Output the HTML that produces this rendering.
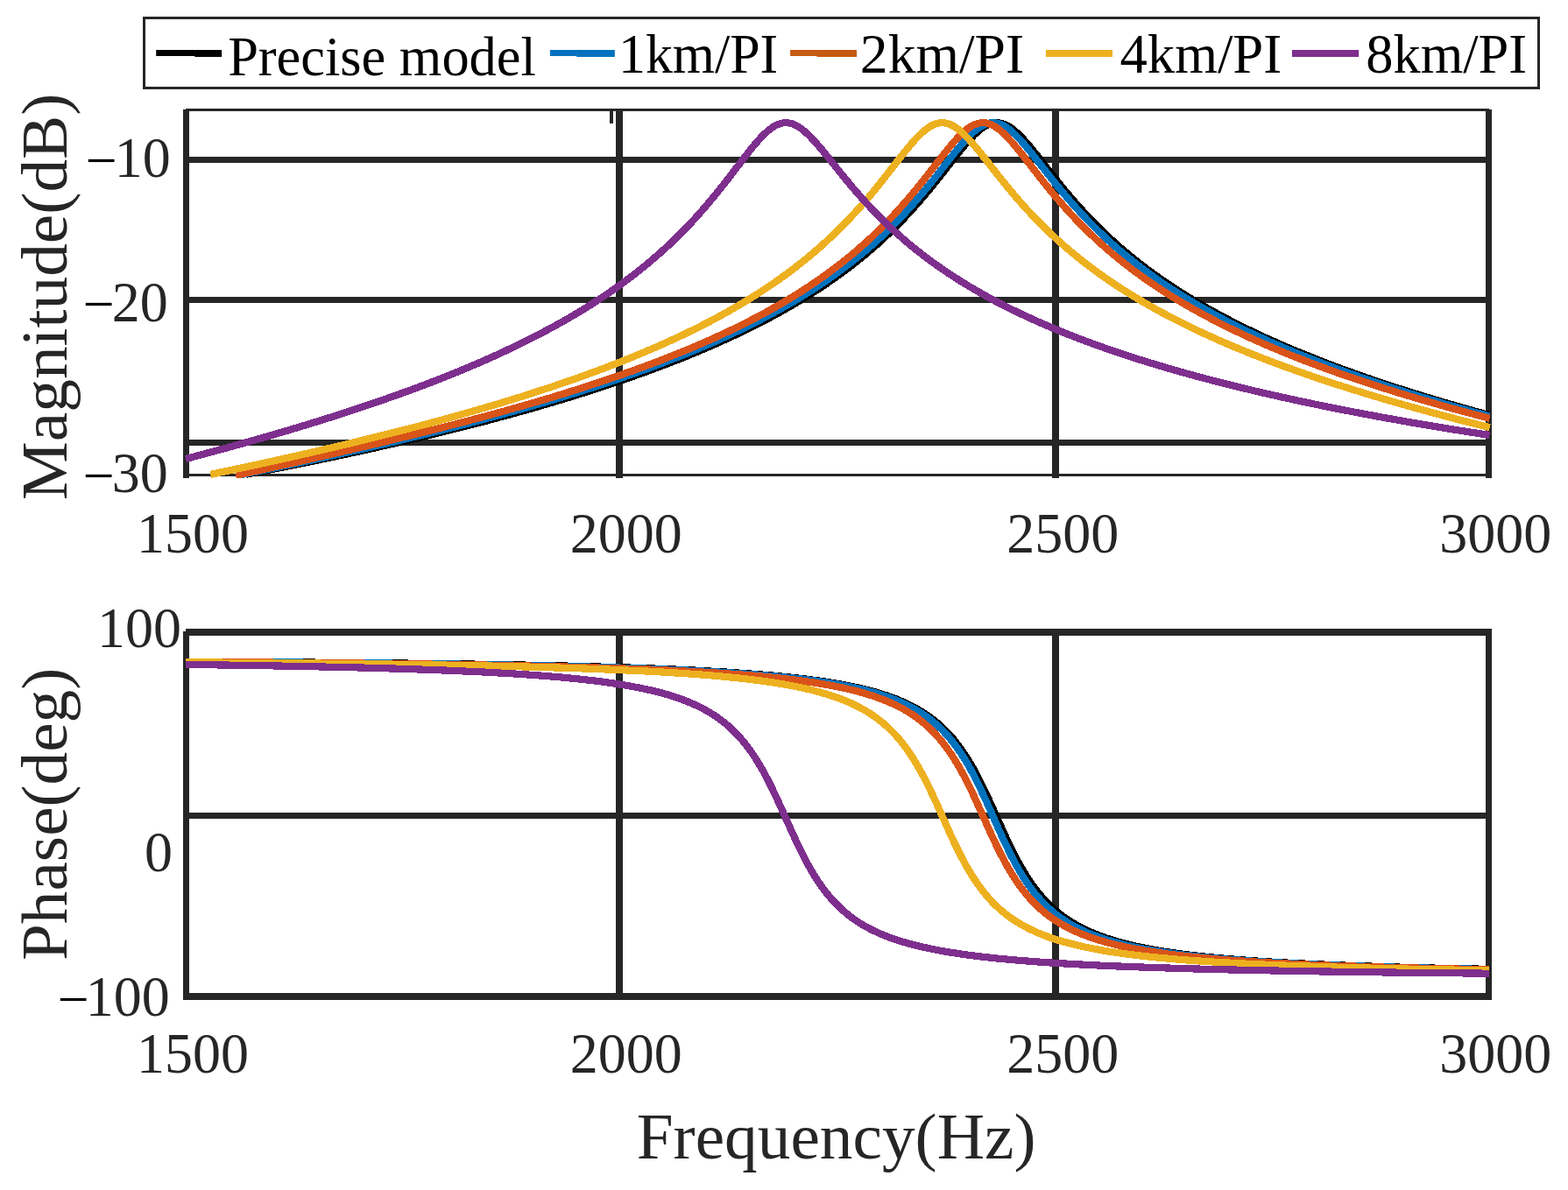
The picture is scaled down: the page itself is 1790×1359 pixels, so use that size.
<!DOCTYPE html>
<html lang="en"><head><meta charset="utf-8"><title>Frequency response</title>
<style>html,body{margin:0;padding:0;background:#fff;}body{width:1790px;height:1359px;overflow:hidden;}svg{display:block;}text{font-family:"Liberation Serif","DejaVu Serif",serif;}</style></head><body>
<svg width="1790" height="1359" viewBox="0 0 1790 1359">
<rect x="0" y="0" width="1790" height="1359" fill="#ffffff"/>
<defs><clipPath id="c1"><rect x="205" y="124" width="1499" height="422"/></clipPath><clipPath id="c2"><rect x="205" y="718" width="1499" height="424"/></clipPath></defs>
<g id="legend">
<rect x="164.5" y="20.5" width="1592" height="80" fill="#fff" stroke="#262626" stroke-width="3"/>
<rect x="178.2" y="57" width="44.7" height="7" fill="#000000"/>
<rect x="222.4" y="57" width="30.7" height="8" fill="#000000"/>
<text transform="matrix(0.6240 0 0 0.6440 260.13 86.26)" font-size="100" fill="#000">Precise model</text>
<rect x="627.9" y="57" width="30.8" height="7" fill="#0072BD"/>
<rect x="658.2" y="57" width="43.6" height="8" fill="#0072BD"/>
<text transform="matrix(0.6191 0 0 0.6340 705.93 82.87)" font-size="100" fill="#000">1km/PI</text>
<rect x="902.1" y="57" width="30.9" height="7" fill="#C55A11"/>
<rect x="932.5" y="57" width="45.5" height="8" fill="#C55A11"/>
<text transform="matrix(0.6360 0 0 0.6340 981.84 82.87)" font-size="100" fill="#000">2km/PI</text>
<rect x="1193.9" y="57" width="76.1" height="8" fill="#EDB120"/>
<text transform="matrix(0.6273 0 0 0.6340 1278.45 82.87)" font-size="100" fill="#000">4km/PI</text>
<rect x="1475.0" y="57" width="76.2" height="8" fill="#7E2F8E"/>
<text transform="matrix(0.6247 0 0 0.6340 1559.20 82.87)" font-size="100" fill="#000">8km/PI</text>
</g>
<g id="ax1" fill="#262626">
<rect x="212" y="124" width="1488" height="3"/>
<rect x="209" y="541" width="1494" height="3"/>
<rect x="212" y="179" width="1488" height="7"/>
<rect x="212" y="339" width="1488" height="7"/>
<rect x="212" y="502" width="1488" height="7"/>
<rect x="703" y="124" width="8" height="422"/>
<rect x="1201" y="124" width="8" height="422"/>
<rect x="209" y="125" width="7" height="421"/>
<rect x="1696" y="125" width="7" height="421"/>
<rect x="696" y="127" width="4" height="14"/>
</g>
<g id="curves1" clip-path="url(#c1)" fill="none" stroke-width="8.2" stroke-linejoin="round" shape-rendering="crispEdges">
<path d="M281.0 541.8 L283.0 541.4 L285.0 541.0 L287.0 540.6 L289.0 540.2 L291.0 539.9 L293.0 539.5 L295.0 539.1 L297.0 538.7 L299.0 538.3 L301.0 537.9 L303.0 537.5 L305.0 537.1 L307.0 536.8 L309.0 536.4 L311.0 536.0 L313.0 535.6 L315.0 535.2 L317.0 534.8 L319.0 534.4 L321.0 534.0 L323.0 533.6 L325.0 533.2 L327.0 532.8 L329.0 532.4 L331.0 532.0 L333.0 531.6 L335.0 531.2 L337.0 530.8 L339.0 530.4 L341.0 530.0 L343.0 529.6 L345.0 529.2 L347.0 528.8 L349.0 528.4 L351.0 528.0 L353.0 527.5 L355.0 527.1 L357.0 526.7 L359.0 526.3 L361.0 525.9 L363.0 525.5 L365.0 525.1 L367.0 524.6 L369.0 524.2 L371.0 523.8 L373.0 523.4 L375.0 523.0 L377.0 522.5 L379.0 522.1 L381.0 521.7 L383.0 521.3 L385.0 520.9 L387.0 520.4 L389.0 520.0 L391.0 519.6 L393.0 519.1 L395.0 518.7 L397.0 518.3 L399.0 517.8 L401.0 517.4 L403.0 517.0 L405.0 516.5 L407.0 516.1 L409.0 515.7 L411.0 515.2 L413.0 514.8 L415.0 514.4 L417.0 513.9 L419.0 513.5 L421.0 513.0 L423.0 512.6 L425.0 512.1 L427.0 511.7 L429.0 511.2 L431.0 510.8 L433.0 510.4 L435.0 509.9 L437.0 509.4 L439.0 509.0 L441.0 508.5 L443.0 508.1 L445.0 507.6 L447.0 507.2 L449.0 506.7 L451.0 506.3 L453.0 505.8 L455.0 505.3 L457.0 504.9 L459.0 504.4 L461.0 503.9 L463.0 503.5 L465.0 503.0 L467.0 502.5 L469.0 502.1 L471.0 501.6 L473.0 501.1 L475.0 500.7 L477.0 500.2 L479.0 499.7 L481.0 499.2 L483.0 498.8 L485.0 498.3 L487.0 497.8 L489.0 497.3 L491.0 496.8 L493.0 496.3 L495.0 495.9 L497.0 495.4 L499.0 494.9 L501.0 494.4 L503.0 493.9 L505.0 493.4 L507.0 492.9 L509.0 492.4 L511.0 491.9 L513.0 491.4 L515.0 490.9 L517.0 490.4 L519.0 489.9 L521.0 489.4 L523.0 488.9 L525.0 488.4 L527.0 487.9 L529.0 487.4 L531.0 486.9 L533.0 486.4 L535.0 485.9 L537.0 485.4 L539.0 484.8 L541.0 484.3 L543.0 483.8 L545.0 483.3 L547.0 482.8 L549.0 482.2 L551.0 481.7 L553.0 481.2 L555.0 480.7 L557.0 480.1 L559.0 479.6 L561.0 479.1 L563.0 478.5 L565.0 478.0 L567.0 477.5 L569.0 476.9 L571.0 476.4 L573.0 475.9 L575.0 475.3 L577.0 474.8 L579.0 474.2 L581.0 473.7 L583.0 473.1 L585.0 472.6 L587.0 472.0 L589.0 471.5 L591.0 470.9 L593.0 470.4 L595.0 469.8 L597.0 469.2 L599.0 468.7 L601.0 468.1 L603.0 467.5 L605.0 467.0 L607.0 466.4 L609.0 465.8 L611.0 465.3 L613.0 464.7 L615.0 464.1 L617.0 463.5 L619.0 462.9 L621.0 462.4 L623.0 461.8 L625.0 461.2 L627.0 460.6 L629.0 460.0 L631.0 459.4 L633.0 458.8 L635.0 458.2 L637.0 457.6 L639.0 457.0 L641.0 456.4 L643.0 455.8 L645.0 455.2 L647.0 454.6 L649.0 454.0 L651.0 453.4 L653.0 452.8 L655.0 452.1 L657.0 451.5 L659.0 450.9 L661.0 450.3 L663.0 449.6 L665.0 449.0 L667.0 448.4 L669.0 447.8 L671.0 447.1 L673.0 446.5 L675.0 445.8 L677.0 445.2 L679.0 444.6 L681.0 443.9 L683.0 443.3 L685.0 442.6 L687.0 441.9 L689.0 441.3 L691.0 440.6 L693.0 440.0 L695.0 439.3 L697.0 438.6 L699.0 438.0 L701.0 437.3 L703.0 436.6 L705.0 435.9 L707.0 435.3 L709.0 434.6 L711.0 433.9 L713.0 433.2 L715.0 432.5 L717.0 431.8 L719.0 431.1 L721.0 430.4 L723.0 429.7 L725.0 429.0 L727.0 428.3 L729.0 427.6 L731.0 426.9 L733.0 426.1 L735.0 425.4 L737.0 424.7 L739.0 424.0 L741.0 423.2 L743.0 422.5 L745.0 421.8 L747.0 421.0 L749.0 420.3 L751.0 419.5 L753.0 418.8 L755.0 418.0 L757.0 417.3 L759.0 416.5 L761.0 415.7 L763.0 415.0 L765.0 414.2 L767.0 413.4 L769.0 412.6 L771.0 411.8 L773.0 411.1 L775.0 410.3 L777.0 409.5 L779.0 408.7 L781.0 407.9 L783.0 407.1 L785.0 406.3 L787.0 405.4 L789.0 404.6 L791.0 403.8 L793.0 403.0 L795.0 402.1 L797.0 401.3 L799.0 400.5 L801.0 399.6 L803.0 398.8 L805.0 397.9 L807.0 397.1 L809.0 396.2 L811.0 395.3 L813.0 394.5 L815.0 393.6 L817.0 392.7 L819.0 391.8 L821.0 390.9 L823.0 390.0 L825.0 389.1 L827.0 388.2 L829.0 387.3 L831.0 386.4 L833.0 385.5 L835.0 384.5 L837.0 383.6 L839.0 382.7 L841.0 381.7 L843.0 380.8 L845.0 379.8 L847.0 378.9 L849.0 377.9 L851.0 376.9 L853.0 376.0 L855.0 375.0 L857.0 374.0 L859.0 373.0 L861.0 372.0 L863.0 371.0 L865.0 370.0 L867.0 368.9 L869.0 367.9 L871.0 366.9 L873.0 365.8 L875.0 364.8 L877.0 363.7 L879.0 362.7 L881.0 361.6 L883.0 360.5 L885.0 359.4 L887.0 358.4 L889.0 357.3 L891.0 356.1 L893.0 355.0 L895.0 353.9 L897.0 352.8 L899.0 351.6 L901.0 350.5 L903.0 349.3 L905.0 348.2 L907.0 347.0 L909.0 345.8 L911.0 344.6 L913.0 343.4 L915.0 342.2 L917.0 341.0 L919.0 339.8 L921.0 338.5 L923.0 337.3 L925.0 336.0 L927.0 334.8 L929.0 333.5 L931.0 332.2 L933.0 330.9 L935.0 329.6 L937.0 328.3 L939.0 327.0 L941.0 325.6 L943.0 324.3 L945.0 322.9 L947.0 321.5 L949.0 320.2 L951.0 318.8 L953.0 317.4 L955.0 315.9 L957.0 314.5 L959.0 313.0 L961.0 311.6 L963.0 310.1 L965.0 308.6 L967.0 307.1 L969.0 305.6 L971.0 304.1 L973.0 302.5 L975.0 301.0 L977.0 299.4 L979.0 297.8 L981.0 296.2 L983.0 294.6 L985.0 292.9 L987.0 291.3 L989.0 289.6 L991.0 287.9 L993.0 286.2 L995.0 284.5 L997.0 282.8 L999.0 281.0 L1001.0 279.3 L1003.0 277.5 L1005.0 275.6 L1007.0 273.8 L1009.0 272.0 L1011.0 270.1 L1013.0 268.2 L1015.0 266.3 L1017.0 264.4 L1019.0 262.4 L1021.0 260.5 L1023.0 258.5 L1025.0 256.4 L1027.0 254.4 L1029.0 252.4 L1031.0 250.3 L1033.0 248.2 L1035.0 246.0 L1037.0 243.9 L1039.0 241.7 L1041.0 239.5 L1043.0 237.3 L1045.0 235.1 L1047.0 232.8 L1049.0 230.5 L1051.0 228.2 L1053.0 225.9 L1055.0 223.5 L1057.0 221.2 L1059.0 218.8 L1061.0 216.4 L1063.0 213.9 L1065.0 211.5 L1067.0 209.0 L1069.0 206.5 L1071.0 204.0 L1073.0 201.5 L1075.0 198.9 L1077.0 196.4 L1079.0 193.8 L1081.0 191.3 L1083.0 188.7 L1085.0 186.2 L1087.0 183.6 L1089.0 181.1 L1091.0 178.5 L1093.0 176.0 L1095.0 173.5 L1097.0 171.1 L1099.0 168.6 L1101.0 166.2 L1103.0 163.9 L1105.0 161.6 L1107.0 159.4 L1109.0 157.3 L1111.0 155.2 L1113.0 153.2 L1115.0 151.4 L1117.0 149.6 L1119.0 148.0 L1121.0 146.5 L1123.0 145.1 L1125.0 143.9 L1127.0 142.9 L1129.0 142.0 L1131.0 141.3 L1133.0 140.7 L1135.0 140.4 L1137.0 140.2 L1139.0 140.2 L1141.0 140.4 L1143.0 140.8 L1145.0 141.4 L1147.0 142.1 L1149.0 143.0 L1151.0 144.1 L1153.0 145.4 L1155.0 146.7 L1157.0 148.3 L1159.0 149.9 L1161.0 151.7 L1163.0 153.6 L1165.0 155.6 L1167.0 157.6 L1169.0 159.8 L1171.0 162.0 L1173.0 164.3 L1175.0 166.6 L1177.0 169.0 L1179.0 171.5 L1181.0 173.9 L1183.0 176.4 L1185.0 178.9 L1187.0 181.5 L1189.0 184.0 L1191.0 186.6 L1193.0 189.1 L1195.0 191.7 L1197.0 194.2 L1199.0 196.8 L1201.0 199.3 L1203.0 201.8 L1205.0 204.3 L1207.0 206.8 L1209.0 209.3 L1211.0 211.8 L1213.0 214.2 L1215.0 216.7 L1217.0 219.1 L1219.0 221.5 L1221.0 223.8 L1223.0 226.2 L1225.0 228.5 L1227.0 230.8 L1229.0 233.1 L1231.0 235.3 L1233.0 237.5 L1235.0 239.7 L1237.0 241.9 L1239.0 244.1 L1241.0 246.2 L1243.0 248.3 L1245.0 250.4 L1247.0 252.5 L1249.0 254.5 L1251.0 256.6 L1253.0 258.6 L1255.0 260.5 L1257.0 262.5 L1259.0 264.4 L1261.0 266.4 L1263.0 268.3 L1265.0 270.1 L1267.0 272.0 L1269.0 273.8 L1271.0 275.7 L1273.0 277.5 L1275.0 279.2 L1277.0 281.0 L1279.0 282.8 L1281.0 284.5 L1283.0 286.2 L1285.0 287.9 L1287.0 289.6 L1289.0 291.2 L1291.0 292.9 L1293.0 294.5 L1295.0 296.1 L1297.0 297.7 L1299.0 299.3 L1301.0 300.8 L1303.0 302.4 L1305.0 303.9 L1307.0 305.5 L1309.0 307.0 L1311.0 308.5 L1313.0 309.9 L1315.0 311.4 L1317.0 312.9 L1319.0 314.3 L1321.0 315.7 L1323.0 317.1 L1325.0 318.5 L1327.0 319.9 L1329.0 321.3 L1331.0 322.7 L1333.0 324.0 L1335.0 325.4 L1337.0 326.7 L1339.0 328.0 L1341.0 329.3 L1343.0 330.6 L1345.0 331.9 L1347.0 333.2 L1349.0 334.5 L1351.0 335.7 L1353.0 337.0 L1355.0 338.2 L1357.0 339.4 L1359.0 340.7 L1361.0 341.9 L1363.0 343.1 L1365.0 344.3 L1367.0 345.4 L1369.0 346.6 L1371.0 347.8 L1373.0 348.9 L1375.0 350.1 L1377.0 351.2 L1379.0 352.4 L1381.0 353.5 L1383.0 354.6 L1385.0 355.7 L1387.0 356.8 L1389.0 357.9 L1391.0 359.0 L1393.0 360.1 L1395.0 361.1 L1397.0 362.2 L1399.0 363.3 L1401.0 364.3 L1403.0 365.3 L1405.0 366.4 L1407.0 367.4 L1409.0 368.4 L1411.0 369.4 L1413.0 370.5 L1415.0 371.5 L1417.0 372.5 L1419.0 373.4 L1421.0 374.4 L1423.0 375.4 L1425.0 376.4 L1427.0 377.3 L1429.0 378.3 L1431.0 379.3 L1433.0 380.2 L1435.0 381.1 L1437.0 382.1 L1439.0 383.0 L1441.0 383.9 L1443.0 384.9 L1445.0 385.8 L1447.0 386.7 L1449.0 387.6 L1451.0 388.5 L1453.0 389.4 L1455.0 390.3 L1457.0 391.2 L1459.0 392.1 L1461.0 392.9 L1463.0 393.8 L1465.0 394.7 L1467.0 395.5 L1469.0 396.4 L1471.0 397.2 L1473.0 398.1 L1475.0 398.9 L1477.0 399.8 L1479.0 400.6 L1481.0 401.4 L1483.0 402.3 L1485.0 403.1 L1487.0 403.9 L1489.0 404.7 L1491.0 405.5 L1493.0 406.3 L1495.0 407.1 L1497.0 407.9 L1499.0 408.7 L1501.0 409.5 L1503.0 410.3 L1505.0 411.1 L1507.0 411.9 L1509.0 412.7 L1511.0 413.4 L1513.0 414.2 L1515.0 415.0 L1517.0 415.7 L1519.0 416.5 L1521.0 417.2 L1523.0 418.0 L1525.0 418.7 L1527.0 419.5 L1529.0 420.2 L1531.0 421.0 L1533.0 421.7 L1535.0 422.4 L1537.0 423.1 L1539.0 423.9 L1541.0 424.6 L1543.0 425.3 L1545.0 426.0 L1547.0 426.7 L1549.0 427.5 L1551.0 428.2 L1553.0 428.9 L1555.0 429.6 L1557.0 430.3 L1559.0 431.0 L1561.0 431.7 L1563.0 432.3 L1565.0 433.0 L1567.0 433.7 L1569.0 434.4 L1571.0 435.1 L1573.0 435.8 L1575.0 436.4 L1577.0 437.1 L1579.0 437.8 L1581.0 438.4 L1583.0 439.1 L1585.0 439.8 L1587.0 440.4 L1589.0 441.1 L1591.0 441.7 L1593.0 442.4 L1595.0 443.0 L1597.0 443.7 L1599.0 444.3 L1601.0 444.9 L1603.0 445.6 L1605.0 446.2 L1607.0 446.9 L1609.0 447.5 L1611.0 448.1 L1613.0 448.7 L1615.0 449.4 L1617.0 450.0 L1619.0 450.6 L1621.0 451.2 L1623.0 451.9 L1625.0 452.5 L1627.0 453.1 L1629.0 453.7 L1631.0 454.3 L1633.0 454.9 L1635.0 455.5 L1637.0 456.1 L1639.0 456.7 L1641.0 457.3 L1643.0 457.9 L1645.0 458.5 L1647.0 459.1 L1649.0 459.7 L1651.0 460.3 L1653.0 460.9 L1655.0 461.4 L1657.0 462.0 L1659.0 462.6 L1661.0 463.2 L1663.0 463.8 L1665.0 464.3 L1667.0 464.9 L1669.0 465.5 L1671.0 466.0 L1673.0 466.6 L1675.0 467.2 L1677.0 467.7 L1679.0 468.3 L1681.0 468.9 L1683.0 469.4 L1685.0 470.0 L1687.0 470.5 L1689.0 471.1 L1691.0 471.6 L1693.0 472.2 L1695.0 472.7 L1697.0 473.3 L1699.0 473.8 L1700.6 474.3" stroke="#000000"/>
<path d="M276.1 542.0 L278.1 541.6 L280.1 541.2 L282.1 540.8 L284.1 540.4 L286.1 540.0 L288.1 539.6 L290.1 539.2 L292.1 538.8 L294.1 538.4 L296.1 538.0 L298.1 537.6 L300.1 537.2 L302.1 536.8 L304.1 536.4 L306.1 535.9 L308.1 535.5 L310.1 535.1 L312.1 534.7 L314.1 534.3 L316.1 533.9 L318.1 533.5 L320.1 533.1 L322.1 532.6 L324.1 532.2 L326.1 531.8 L328.1 531.4 L330.1 531.0 L332.1 530.6 L334.1 530.1 L336.1 529.7 L338.1 529.3 L340.1 528.9 L342.1 528.4 L344.1 528.0 L346.1 527.6 L348.1 527.2 L350.1 526.7 L352.1 526.3 L354.1 525.9 L356.1 525.5 L358.1 525.0 L360.1 524.6 L362.1 524.2 L364.1 523.7 L366.1 523.3 L368.1 522.9 L370.1 522.4 L372.1 522.0 L374.1 521.6 L376.1 521.1 L378.1 520.7 L380.1 520.3 L382.1 519.8 L384.1 519.4 L386.1 519.0 L388.1 518.5 L390.1 518.1 L392.1 517.6 L394.1 517.2 L396.1 516.7 L398.1 516.3 L400.1 515.8 L402.1 515.4 L404.1 515.0 L406.1 514.5 L408.1 514.1 L410.1 513.6 L412.1 513.2 L414.1 512.7 L416.1 512.2 L418.1 511.8 L420.1 511.3 L422.1 510.9 L424.1 510.4 L426.1 510.0 L428.1 509.5 L430.1 509.0 L432.1 508.6 L434.1 508.1 L436.1 507.7 L438.1 507.2 L440.1 506.7 L442.1 506.3 L444.1 505.8 L446.1 505.3 L448.1 504.9 L450.1 504.4 L452.1 503.9 L454.1 503.5 L456.1 503.0 L458.1 502.5 L460.1 502.0 L462.1 501.6 L464.1 501.1 L466.1 500.6 L468.1 500.1 L470.1 499.6 L472.1 499.2 L474.1 498.7 L476.1 498.2 L478.1 497.7 L480.1 497.2 L482.1 496.7 L484.1 496.3 L486.1 495.8 L488.1 495.3 L490.1 494.8 L492.1 494.3 L494.1 493.8 L496.1 493.3 L498.1 492.8 L500.1 492.3 L502.1 491.8 L504.1 491.3 L506.1 490.8 L508.1 490.3 L510.1 489.8 L512.1 489.3 L514.1 488.8 L516.1 488.3 L518.1 487.8 L520.1 487.3 L522.1 486.8 L524.1 486.2 L526.1 485.7 L528.1 485.2 L530.1 484.7 L532.1 484.2 L534.1 483.7 L536.1 483.1 L538.1 482.6 L540.1 482.1 L542.1 481.6 L544.1 481.1 L546.1 480.5 L548.1 480.0 L550.1 479.5 L552.1 478.9 L554.1 478.4 L556.1 477.9 L558.1 477.3 L560.1 476.8 L562.1 476.3 L564.1 475.7 L566.1 475.2 L568.1 474.6 L570.1 474.1 L572.1 473.5 L574.1 473.0 L576.1 472.5 L578.1 471.9 L580.1 471.3 L582.1 470.8 L584.1 470.2 L586.1 469.7 L588.1 469.1 L590.1 468.6 L592.1 468.0 L594.1 467.4 L596.1 466.9 L598.1 466.3 L600.1 465.7 L602.1 465.2 L604.1 464.6 L606.1 464.0 L608.1 463.4 L610.1 462.9 L612.1 462.3 L614.1 461.7 L616.1 461.1 L618.1 460.5 L620.1 460.0 L622.1 459.4 L624.1 458.8 L626.1 458.2 L628.1 457.6 L630.1 457.0 L632.1 456.4 L634.1 455.8 L636.1 455.2 L638.1 454.6 L640.1 454.0 L642.1 453.4 L644.1 452.8 L646.1 452.1 L648.1 451.5 L650.1 450.9 L652.1 450.3 L654.1 449.7 L656.1 449.1 L658.1 448.4 L660.1 447.8 L662.1 447.2 L664.1 446.5 L666.1 445.9 L668.1 445.3 L670.1 444.6 L672.1 444.0 L674.1 443.4 L676.1 442.7 L678.1 442.1 L680.1 441.4 L682.1 440.8 L684.1 440.1 L686.1 439.4 L688.1 438.8 L690.1 438.1 L692.1 437.5 L694.1 436.8 L696.1 436.1 L698.1 435.4 L700.1 434.8 L702.1 434.1 L704.1 433.4 L706.1 432.7 L708.1 432.0 L710.1 431.4 L712.1 430.7 L714.1 430.0 L716.1 429.3 L718.1 428.6 L720.1 427.9 L722.1 427.2 L724.1 426.5 L726.1 425.7 L728.1 425.0 L730.1 424.3 L732.1 423.6 L734.1 422.9 L736.1 422.1 L738.1 421.4 L740.1 420.7 L742.1 419.9 L744.1 419.2 L746.1 418.5 L748.1 417.7 L750.1 417.0 L752.1 416.2 L754.1 415.4 L756.1 414.7 L758.1 413.9 L760.1 413.2 L762.1 412.4 L764.1 411.6 L766.1 410.8 L768.1 410.0 L770.1 409.3 L772.1 408.5 L774.1 407.7 L776.1 406.9 L778.1 406.1 L780.1 405.3 L782.1 404.5 L784.1 403.7 L786.1 402.8 L788.1 402.0 L790.1 401.2 L792.1 400.4 L794.1 399.5 L796.1 398.7 L798.1 397.9 L800.1 397.0 L802.1 396.2 L804.1 395.3 L806.1 394.4 L808.1 393.6 L810.1 392.7 L812.1 391.8 L814.1 391.0 L816.1 390.1 L818.1 389.2 L820.1 388.3 L822.1 387.4 L824.1 386.5 L826.1 385.6 L828.1 384.7 L830.1 383.7 L832.1 382.8 L834.1 381.9 L836.1 381.0 L838.1 380.0 L840.1 379.1 L842.1 378.1 L844.1 377.2 L846.1 376.2 L848.1 375.2 L850.1 374.2 L852.1 373.3 L854.1 372.3 L856.1 371.3 L858.1 370.3 L860.1 369.3 L862.1 368.3 L864.1 367.2 L866.1 366.2 L868.1 365.2 L870.1 364.1 L872.1 363.1 L874.1 362.0 L876.1 361.0 L878.1 359.9 L880.1 358.8 L882.1 357.8 L884.1 356.7 L886.1 355.6 L888.1 354.5 L890.1 353.4 L892.1 352.2 L894.1 351.1 L896.1 350.0 L898.1 348.8 L900.1 347.7 L902.1 346.5 L904.1 345.3 L906.1 344.2 L908.1 343.0 L910.1 341.8 L912.1 340.6 L914.1 339.3 L916.1 338.1 L918.1 336.9 L920.1 335.6 L922.1 334.4 L924.1 333.1 L926.1 331.8 L928.1 330.6 L930.1 329.3 L932.1 328.0 L934.1 326.6 L936.1 325.3 L938.1 324.0 L940.1 322.6 L942.1 321.3 L944.1 319.9 L946.1 318.5 L948.1 317.1 L950.1 315.7 L952.1 314.3 L954.1 312.8 L956.1 311.4 L958.1 309.9 L960.1 308.4 L962.1 306.9 L964.1 305.4 L966.1 303.9 L968.1 302.4 L970.1 300.8 L972.1 299.3 L974.1 297.7 L976.1 296.1 L978.1 294.5 L980.1 292.9 L982.1 291.2 L984.1 289.6 L986.1 287.9 L988.1 286.2 L990.1 284.5 L992.1 282.8 L994.1 281.1 L996.1 279.3 L998.1 277.5 L1000.1 275.7 L1002.1 273.9 L1004.1 272.1 L1006.1 270.2 L1008.1 268.3 L1010.1 266.5 L1012.1 264.5 L1014.1 262.6 L1016.1 260.6 L1018.1 258.7 L1020.1 256.7 L1022.1 254.7 L1024.1 252.6 L1026.1 250.5 L1028.1 248.5 L1030.1 246.4 L1032.1 244.2 L1034.1 242.1 L1036.1 239.9 L1038.1 237.7 L1040.1 235.5 L1042.1 233.2 L1044.1 231.0 L1046.1 228.7 L1048.1 226.3 L1050.1 224.0 L1052.1 221.7 L1054.1 219.3 L1056.1 216.9 L1058.1 214.5 L1060.1 212.0 L1062.1 209.6 L1064.1 207.1 L1066.1 204.6 L1068.1 202.1 L1070.1 199.6 L1072.1 197.0 L1074.1 194.5 L1076.1 191.9 L1078.1 189.4 L1080.1 186.8 L1082.1 184.3 L1084.1 181.7 L1086.1 179.2 L1088.1 176.7 L1090.1 174.2 L1092.1 171.7 L1094.1 169.3 L1096.1 166.9 L1098.1 164.6 L1100.1 162.3 L1102.1 160.0 L1104.1 157.9 L1106.1 155.8 L1108.1 153.8 L1110.1 151.9 L1112.1 150.1 L1114.1 148.5 L1116.1 146.9 L1118.1 145.5 L1120.1 144.3 L1122.1 143.2 L1124.1 142.2 L1126.1 141.5 L1128.1 140.9 L1130.1 140.5 L1132.1 140.2 L1134.1 140.2 L1136.1 140.3 L1138.1 140.7 L1140.1 141.2 L1142.1 141.9 L1144.1 142.7 L1146.1 143.8 L1148.1 144.9 L1150.1 146.3 L1152.1 147.8 L1154.1 149.4 L1156.1 151.1 L1158.1 152.9 L1160.1 154.9 L1162.1 156.9 L1164.1 159.1 L1166.1 161.3 L1168.1 163.5 L1170.1 165.9 L1172.1 168.2 L1174.1 170.7 L1176.1 173.1 L1178.1 175.6 L1180.1 178.1 L1182.1 180.7 L1184.1 183.2 L1186.1 185.8 L1188.1 188.3 L1190.1 190.9 L1192.1 193.4 L1194.1 196.0 L1196.1 198.5 L1198.1 201.0 L1200.1 203.6 L1202.1 206.1 L1204.1 208.6 L1206.1 211.0 L1208.1 213.5 L1210.1 215.9 L1212.1 218.3 L1214.1 220.7 L1216.1 223.1 L1218.1 225.5 L1220.1 227.8 L1222.1 230.1 L1224.1 232.4 L1226.1 234.7 L1228.1 236.9 L1230.1 239.1 L1232.1 241.3 L1234.1 243.5 L1236.1 245.6 L1238.1 247.8 L1240.1 249.9 L1242.1 251.9 L1244.1 254.0 L1246.1 256.0 L1248.1 258.1 L1250.1 260.1 L1252.1 262.0 L1254.1 264.0 L1256.1 265.9 L1258.1 267.8 L1260.1 269.7 L1262.1 271.6 L1264.1 273.4 L1266.1 275.3 L1268.1 277.1 L1270.1 278.9 L1272.1 280.6 L1274.1 282.4 L1276.1 284.1 L1278.1 285.9 L1280.1 287.6 L1282.1 289.2 L1284.1 290.9 L1286.1 292.6 L1288.1 294.2 L1290.1 295.8 L1292.1 297.4 L1294.1 299.0 L1296.1 300.6 L1298.1 302.1 L1300.1 303.7 L1302.1 305.2 L1304.1 306.7 L1306.1 308.2 L1308.1 309.7 L1310.1 311.2 L1312.1 312.7 L1314.1 314.1 L1316.1 315.5 L1318.1 317.0 L1320.1 318.4 L1322.1 319.8 L1324.1 321.2 L1326.1 322.5 L1328.1 323.9 L1330.1 325.2 L1332.1 326.6 L1334.1 327.9 L1336.1 329.2 L1338.1 330.5 L1340.1 331.8 L1342.1 333.1 L1344.1 334.4 L1346.1 335.7 L1348.1 336.9 L1350.1 338.2 L1352.1 339.4 L1354.1 340.6 L1356.1 341.8 L1358.1 343.0 L1360.1 344.2 L1362.1 345.4 L1364.1 346.6 L1366.1 347.8 L1368.1 348.9 L1370.1 350.1 L1372.1 351.2 L1374.1 352.4 L1376.1 353.5 L1378.1 354.6 L1380.1 355.7 L1382.1 356.8 L1384.1 357.9 L1386.1 359.0 L1388.1 360.1 L1390.1 361.2 L1392.1 362.2 L1394.1 363.3 L1396.1 364.4 L1398.1 365.4 L1400.1 366.4 L1402.1 367.5 L1404.1 368.5 L1406.1 369.5 L1408.1 370.5 L1410.1 371.5 L1412.1 372.5 L1414.1 373.5 L1416.1 374.5 L1418.1 375.5 L1420.1 376.5 L1422.1 377.4 L1424.1 378.4 L1426.1 379.4 L1428.1 380.3 L1430.1 381.3 L1432.1 382.2 L1434.1 383.1 L1436.1 384.1 L1438.1 385.0 L1440.1 385.9 L1442.1 386.8 L1444.1 387.7 L1446.1 388.6 L1448.1 389.5 L1450.1 390.4 L1452.1 391.3 L1454.1 392.2 L1456.1 393.1 L1458.1 393.9 L1460.1 394.8 L1462.1 395.7 L1464.1 396.5 L1466.1 397.4 L1468.1 398.2 L1470.1 399.1 L1472.1 399.9 L1474.1 400.8 L1476.1 401.6 L1478.1 402.4 L1480.1 403.2 L1482.1 404.1 L1484.1 404.9 L1486.1 405.7 L1488.1 406.5 L1490.1 407.3 L1492.1 408.1 L1494.1 408.9 L1496.1 409.7 L1498.1 410.5 L1500.1 411.2 L1502.1 412.0 L1504.1 412.8 L1506.1 413.6 L1508.1 414.3 L1510.1 415.1 L1512.1 415.9 L1514.1 416.6 L1516.1 417.4 L1518.1 418.1 L1520.1 418.9 L1522.1 419.6 L1524.1 420.4 L1526.1 421.1 L1528.1 421.8 L1530.1 422.6 L1532.1 423.3 L1534.1 424.0 L1536.1 424.7 L1538.1 425.5 L1540.1 426.2 L1542.1 426.9 L1544.1 427.6 L1546.1 428.3 L1548.1 429.0 L1550.1 429.7 L1552.1 430.4 L1554.1 431.1 L1556.1 431.8 L1558.1 432.5 L1560.1 433.1 L1562.1 433.8 L1564.1 434.5 L1566.1 435.2 L1568.1 435.9 L1570.1 436.5 L1572.1 437.2 L1574.1 437.9 L1576.1 438.5 L1578.1 439.2 L1580.1 439.8 L1582.1 440.5 L1584.1 441.2 L1586.1 441.8 L1588.1 442.4 L1590.1 443.1 L1592.1 443.7 L1594.1 444.4 L1596.1 445.0 L1598.1 445.6 L1600.1 446.3 L1602.1 446.9 L1604.1 447.5 L1606.1 448.2 L1608.1 448.8 L1610.1 449.4 L1612.1 450.0 L1614.1 450.6 L1616.1 451.3 L1618.1 451.9 L1620.1 452.5 L1622.1 453.1 L1624.1 453.7 L1626.1 454.3 L1628.1 454.9 L1630.1 455.5 L1632.1 456.1 L1634.1 456.7 L1636.1 457.3 L1638.1 457.9 L1640.1 458.5 L1642.1 459.0 L1644.1 459.6 L1646.1 460.2 L1648.1 460.8 L1650.1 461.4 L1652.1 462.0 L1654.1 462.5 L1656.1 463.1 L1658.1 463.7 L1660.1 464.2 L1662.1 464.8 L1664.1 465.4 L1666.1 465.9 L1668.1 466.5 L1670.1 467.1 L1672.1 467.6 L1674.1 468.2 L1676.1 468.7 L1678.1 469.3 L1680.1 469.8 L1682.1 470.4 L1684.1 470.9 L1686.1 471.5 L1688.1 472.0 L1690.1 472.6 L1692.1 473.1 L1694.1 473.6 L1696.1 474.2 L1698.1 474.7 L1700.1 475.3 L1700.6 475.4" stroke="#0072BD"/>
<path d="M269.2 542.9 L271.2 542.5 L273.2 542.1 L275.2 541.6 L277.2 541.2 L279.2 540.7 L281.2 540.3 L283.2 539.9 L285.2 539.4 L287.2 539.0 L289.2 538.6 L291.2 538.1 L293.2 537.7 L295.2 537.3 L297.2 536.8 L299.2 536.4 L301.2 535.9 L303.2 535.5 L305.2 535.1 L307.2 534.6 L309.2 534.2 L311.2 533.7 L313.2 533.3 L315.2 532.9 L317.2 532.4 L319.2 532.0 L321.2 531.5 L323.2 531.1 L325.2 530.6 L327.2 530.2 L329.2 529.7 L331.2 529.3 L333.2 528.9 L335.2 528.4 L337.2 528.0 L339.2 527.5 L341.2 527.1 L343.2 526.6 L345.2 526.2 L347.2 525.7 L349.2 525.3 L351.2 524.8 L353.2 524.4 L355.2 523.9 L357.2 523.5 L359.2 523.0 L361.2 522.6 L363.2 522.1 L365.2 521.7 L367.2 521.2 L369.2 520.8 L371.2 520.3 L373.2 519.9 L375.2 519.4 L377.2 518.9 L379.2 518.5 L381.2 518.0 L383.2 517.6 L385.2 517.1 L387.2 516.6 L389.2 516.2 L391.2 515.7 L393.2 515.3 L395.2 514.8 L397.2 514.3 L399.2 513.9 L401.2 513.4 L403.2 512.9 L405.2 512.5 L407.2 512.0 L409.2 511.6 L411.2 511.1 L413.2 510.6 L415.2 510.1 L417.2 509.7 L419.2 509.2 L421.2 508.7 L423.2 508.3 L425.2 507.8 L427.2 507.3 L429.2 506.8 L431.2 506.4 L433.2 505.9 L435.2 505.4 L437.2 504.9 L439.2 504.5 L441.2 504.0 L443.2 503.5 L445.2 503.0 L447.2 502.5 L449.2 502.1 L451.2 501.6 L453.2 501.1 L455.2 500.6 L457.2 500.1 L459.2 499.6 L461.2 499.1 L463.2 498.7 L465.2 498.2 L467.2 497.7 L469.2 497.2 L471.2 496.7 L473.2 496.2 L475.2 495.7 L477.2 495.2 L479.2 494.7 L481.2 494.2 L483.2 493.7 L485.2 493.2 L487.2 492.7 L489.2 492.2 L491.2 491.7 L493.2 491.2 L495.2 490.7 L497.2 490.2 L499.2 489.7 L501.2 489.2 L503.2 488.7 L505.2 488.2 L507.2 487.7 L509.2 487.2 L511.2 486.6 L513.2 486.1 L515.2 485.6 L517.2 485.1 L519.2 484.6 L521.2 484.1 L523.2 483.5 L525.2 483.0 L527.2 482.5 L529.2 482.0 L531.2 481.5 L533.2 480.9 L535.2 480.4 L537.2 479.9 L539.2 479.3 L541.2 478.8 L543.2 478.3 L545.2 477.7 L547.2 477.2 L549.2 476.7 L551.2 476.1 L553.2 475.6 L555.2 475.1 L557.2 474.5 L559.2 474.0 L561.2 473.4 L563.2 472.9 L565.2 472.3 L567.2 471.8 L569.2 471.2 L571.2 470.7 L573.2 470.1 L575.2 469.6 L577.2 469.0 L579.2 468.5 L581.2 467.9 L583.2 467.3 L585.2 466.8 L587.2 466.2 L589.2 465.6 L591.2 465.1 L593.2 464.5 L595.2 463.9 L597.2 463.4 L599.2 462.8 L601.2 462.2 L603.2 461.6 L605.2 461.1 L607.2 460.5 L609.2 459.9 L611.2 459.3 L613.2 458.7 L615.2 458.1 L617.2 457.5 L619.2 456.9 L621.2 456.4 L623.2 455.8 L625.2 455.2 L627.2 454.6 L629.2 454.0 L631.2 453.4 L633.2 452.7 L635.2 452.1 L637.2 451.5 L639.2 450.9 L641.2 450.3 L643.2 449.7 L645.2 449.1 L647.2 448.5 L649.2 447.8 L651.2 447.2 L653.2 446.6 L655.2 445.9 L657.2 445.3 L659.2 444.7 L661.2 444.0 L663.2 443.4 L665.2 442.8 L667.2 442.1 L669.2 441.5 L671.2 440.8 L673.2 440.2 L675.2 439.5 L677.2 438.9 L679.2 438.2 L681.2 437.6 L683.2 436.9 L685.2 436.2 L687.2 435.6 L689.2 434.9 L691.2 434.2 L693.2 433.6 L695.2 432.9 L697.2 432.2 L699.2 431.5 L701.2 430.8 L703.2 430.1 L705.2 429.4 L707.2 428.7 L709.2 428.1 L711.2 427.4 L713.2 426.6 L715.2 425.9 L717.2 425.2 L719.2 424.5 L721.2 423.8 L723.2 423.1 L725.2 422.4 L727.2 421.6 L729.2 420.9 L731.2 420.2 L733.2 419.4 L735.2 418.7 L737.2 418.0 L739.2 417.2 L741.2 416.5 L743.2 415.7 L745.2 415.0 L747.2 414.2 L749.2 413.5 L751.2 412.7 L753.2 411.9 L755.2 411.1 L757.2 410.4 L759.2 409.6 L761.2 408.8 L763.2 408.0 L765.2 407.2 L767.2 406.4 L769.2 405.6 L771.2 404.8 L773.2 404.0 L775.2 403.2 L777.2 402.4 L779.2 401.6 L781.2 400.8 L783.2 399.9 L785.2 399.1 L787.2 398.3 L789.2 397.4 L791.2 396.6 L793.2 395.7 L795.2 394.9 L797.2 394.0 L799.2 393.1 L801.2 392.3 L803.2 391.4 L805.2 390.5 L807.2 389.6 L809.2 388.8 L811.2 387.9 L813.2 387.0 L815.2 386.1 L817.2 385.1 L819.2 384.2 L821.2 383.3 L823.2 382.4 L825.2 381.5 L827.2 380.5 L829.2 379.6 L831.2 378.6 L833.2 377.7 L835.2 376.7 L837.2 375.8 L839.2 374.8 L841.2 373.8 L843.2 372.8 L845.2 371.8 L847.2 370.8 L849.2 369.8 L851.2 368.8 L853.2 367.8 L855.2 366.8 L857.2 365.8 L859.2 364.7 L861.2 363.7 L863.2 362.6 L865.2 361.6 L867.2 360.5 L869.2 359.4 L871.2 358.4 L873.2 357.3 L875.2 356.2 L877.2 355.1 L879.2 354.0 L881.2 352.8 L883.2 351.7 L885.2 350.6 L887.2 349.4 L889.2 348.3 L891.2 347.1 L893.2 346.0 L895.2 344.8 L897.2 343.6 L899.2 342.4 L901.2 341.2 L903.2 340.0 L905.2 338.8 L907.2 337.5 L909.2 336.3 L911.2 335.0 L913.2 333.8 L915.2 332.5 L917.2 331.2 L919.2 329.9 L921.2 328.6 L923.2 327.3 L925.2 326.0 L927.2 324.6 L929.2 323.3 L931.2 321.9 L933.2 320.5 L935.2 319.1 L937.2 317.7 L939.2 316.3 L941.2 314.9 L943.2 313.5 L945.2 312.0 L947.2 310.5 L949.2 309.1 L951.2 307.6 L953.2 306.1 L955.2 304.5 L957.2 303.0 L959.2 301.5 L961.2 299.9 L963.2 298.3 L965.2 296.7 L967.2 295.1 L969.2 293.5 L971.2 291.8 L973.2 290.2 L975.2 288.5 L977.2 286.8 L979.2 285.1 L981.2 283.4 L983.2 281.6 L985.2 279.8 L987.2 278.1 L989.2 276.3 L991.2 274.4 L993.2 272.6 L995.2 270.7 L997.2 268.8 L999.2 266.9 L1001.2 265.0 L1003.2 263.1 L1005.2 261.1 L1007.2 259.1 L1009.2 257.1 L1011.2 255.1 L1013.2 253.0 L1015.2 250.9 L1017.2 248.8 L1019.2 246.7 L1021.2 244.6 L1023.2 242.4 L1025.2 240.2 L1027.2 238.0 L1029.2 235.8 L1031.2 233.5 L1033.2 231.2 L1035.2 228.9 L1037.2 226.6 L1039.2 224.2 L1041.2 221.8 L1043.2 219.4 L1045.2 217.0 L1047.2 214.6 L1049.2 212.1 L1051.2 209.6 L1053.2 207.1 L1055.2 204.6 L1057.2 202.1 L1059.2 199.5 L1061.2 197.0 L1063.2 194.4 L1065.2 191.9 L1067.2 189.3 L1069.2 186.7 L1071.2 184.1 L1073.2 181.6 L1075.2 179.0 L1077.2 176.5 L1079.2 174.0 L1081.2 171.5 L1083.2 169.0 L1085.2 166.6 L1087.2 164.2 L1089.2 161.9 L1091.2 159.7 L1093.2 157.5 L1095.2 155.4 L1097.2 153.4 L1099.2 151.6 L1101.2 149.8 L1103.2 148.1 L1105.2 146.6 L1107.2 145.2 L1109.2 144.0 L1111.2 142.9 L1113.2 142.0 L1115.2 141.3 L1117.2 140.7 L1119.2 140.4 L1121.2 140.2 L1123.2 140.2 L1125.2 140.4 L1127.2 140.8 L1129.2 141.4 L1131.2 142.2 L1133.2 143.1 L1135.2 144.2 L1137.2 145.4 L1139.2 146.8 L1141.2 148.4 L1143.2 150.1 L1145.2 151.9 L1147.2 153.8 L1149.2 155.8 L1151.2 157.9 L1153.2 160.1 L1155.2 162.3 L1157.2 164.7 L1159.2 167.0 L1161.2 169.5 L1163.2 171.9 L1165.2 174.4 L1167.2 176.9 L1169.2 179.5 L1171.2 182.1 L1173.2 184.6 L1175.2 187.2 L1177.2 189.8 L1179.2 192.4 L1181.2 194.9 L1183.2 197.5 L1185.2 200.1 L1187.2 202.6 L1189.2 205.1 L1191.2 207.7 L1193.2 210.2 L1195.2 212.6 L1197.2 215.1 L1199.2 217.6 L1201.2 220.0 L1203.2 222.4 L1205.2 224.8 L1207.2 227.1 L1209.2 229.4 L1211.2 231.8 L1213.2 234.0 L1215.2 236.3 L1217.2 238.6 L1219.2 240.8 L1221.2 243.0 L1223.2 245.1 L1225.2 247.3 L1227.2 249.4 L1229.2 251.5 L1231.2 253.6 L1233.2 255.6 L1235.2 257.7 L1237.2 259.7 L1239.2 261.7 L1241.2 263.6 L1243.2 265.6 L1245.2 267.5 L1247.2 269.4 L1249.2 271.3 L1251.2 273.2 L1253.2 275.0 L1255.2 276.8 L1257.2 278.6 L1259.2 280.4 L1261.2 282.2 L1263.2 283.9 L1265.2 285.7 L1267.2 287.4 L1269.2 289.1 L1271.2 290.8 L1273.2 292.4 L1275.2 294.1 L1277.2 295.7 L1279.2 297.3 L1281.2 298.9 L1283.2 300.5 L1285.2 302.1 L1287.2 303.6 L1289.2 305.2 L1291.2 306.7 L1293.2 308.2 L1295.2 309.7 L1297.2 311.2 L1299.2 312.6 L1301.2 314.1 L1303.2 315.5 L1305.2 316.9 L1307.2 318.4 L1309.2 319.8 L1311.2 321.1 L1313.2 322.5 L1315.2 323.9 L1317.2 325.2 L1319.2 326.6 L1321.2 327.9 L1323.2 329.2 L1325.2 330.5 L1327.2 331.8 L1329.2 333.1 L1331.2 334.4 L1333.2 335.7 L1335.2 336.9 L1337.2 338.2 L1339.2 339.4 L1341.2 340.6 L1343.2 341.8 L1345.2 343.0 L1347.2 344.2 L1349.2 345.4 L1351.2 346.6 L1353.2 347.8 L1355.2 348.9 L1357.2 350.1 L1359.2 351.2 L1361.2 352.4 L1363.2 353.5 L1365.2 354.6 L1367.2 355.7 L1369.2 356.8 L1371.2 357.9 L1373.2 359.0 L1375.2 360.1 L1377.2 361.2 L1379.2 362.2 L1381.2 363.3 L1383.2 364.3 L1385.2 365.4 L1387.2 366.4 L1389.2 367.5 L1391.2 368.5 L1393.2 369.5 L1395.2 370.5 L1397.2 371.5 L1399.2 372.5 L1401.2 373.5 L1403.2 374.5 L1405.2 375.5 L1407.2 376.4 L1409.2 377.4 L1411.2 378.3 L1413.2 379.3 L1415.2 380.2 L1417.2 381.2 L1419.2 382.1 L1421.2 383.1 L1423.2 384.0 L1425.2 384.9 L1427.2 385.8 L1429.2 386.7 L1431.2 387.6 L1433.2 388.5 L1435.2 389.4 L1437.2 390.3 L1439.2 391.2 L1441.2 392.1 L1443.2 392.9 L1445.2 393.8 L1447.2 394.7 L1449.2 395.5 L1451.2 396.4 L1453.2 397.2 L1455.2 398.1 L1457.2 398.9 L1459.2 399.7 L1461.2 400.6 L1463.2 401.4 L1465.2 402.2 L1467.2 403.0 L1469.2 403.9 L1471.2 404.7 L1473.2 405.5 L1475.2 406.3 L1477.2 407.1 L1479.2 407.9 L1481.2 408.6 L1483.2 409.4 L1485.2 410.2 L1487.2 411.0 L1489.2 411.8 L1491.2 412.5 L1493.2 413.3 L1495.2 414.1 L1497.2 414.8 L1499.2 415.6 L1501.2 416.3 L1503.2 417.1 L1505.2 417.8 L1507.2 418.6 L1509.2 419.3 L1511.2 420.0 L1513.2 420.8 L1515.2 421.5 L1517.2 422.2 L1519.2 422.9 L1521.2 423.6 L1523.2 424.4 L1525.2 425.1 L1527.2 425.8 L1529.2 426.5 L1531.2 427.2 L1533.2 427.9 L1535.2 428.6 L1537.2 429.3 L1539.2 430.0 L1541.2 430.6 L1543.2 431.3 L1545.2 432.0 L1547.2 432.7 L1549.2 433.4 L1551.2 434.0 L1553.2 434.7 L1555.2 435.4 L1557.2 436.0 L1559.2 436.7 L1561.2 437.3 L1563.2 438.0 L1565.2 438.7 L1567.2 439.3 L1569.2 440.0 L1571.2 440.6 L1573.2 441.2 L1575.2 441.9 L1577.2 442.5 L1579.2 443.2 L1581.2 443.8 L1583.2 444.4 L1585.2 445.0 L1587.2 445.7 L1589.2 446.3 L1591.2 446.9 L1593.2 447.5 L1595.2 448.2 L1597.2 448.8 L1599.2 449.4 L1601.2 450.0 L1603.2 450.6 L1605.2 451.2 L1607.2 451.8 L1609.2 452.4 L1611.2 453.0 L1613.2 453.6 L1615.2 454.2 L1617.2 454.8 L1619.2 455.4 L1621.2 456.0 L1623.2 456.5 L1625.2 457.1 L1627.2 457.7 L1629.2 458.3 L1631.2 458.9 L1633.2 459.4 L1635.2 460.0 L1637.2 460.6 L1639.2 461.2 L1641.2 461.7 L1643.2 462.3 L1645.2 462.9 L1647.2 463.4 L1649.2 464.0 L1651.2 464.5 L1653.2 465.1 L1655.2 465.7 L1657.2 466.2 L1659.2 466.8 L1661.2 467.3 L1663.2 467.9 L1665.2 468.4 L1667.2 469.0 L1669.2 469.5 L1671.2 470.0 L1673.2 470.6 L1675.2 471.1 L1677.2 471.7 L1679.2 472.2 L1681.2 472.7 L1683.2 473.3 L1685.2 473.8 L1687.2 474.3 L1689.2 474.8 L1691.2 475.4 L1693.2 475.9 L1695.2 476.4 L1697.2 476.9 L1699.2 477.5 L1700.6 477.8" stroke="#D95319"/>
<path d="M240.2 541.8 L242.2 541.4 L244.2 541.0 L246.2 540.6 L248.2 540.2 L250.2 539.7 L252.2 539.3 L254.2 538.9 L256.2 538.5 L258.2 538.1 L260.2 537.6 L262.2 537.2 L264.2 536.8 L266.2 536.4 L268.2 535.9 L270.2 535.5 L272.2 535.1 L274.2 534.7 L276.2 534.2 L278.2 533.8 L280.2 533.4 L282.2 532.9 L284.2 532.5 L286.2 532.1 L288.2 531.7 L290.2 531.2 L292.2 530.8 L294.2 530.4 L296.2 529.9 L298.2 529.5 L300.2 529.0 L302.2 528.6 L304.2 528.2 L306.2 527.7 L308.2 527.3 L310.2 526.9 L312.2 526.4 L314.2 526.0 L316.2 525.5 L318.2 525.1 L320.2 524.6 L322.2 524.2 L324.2 523.7 L326.2 523.3 L328.2 522.9 L330.2 522.4 L332.2 522.0 L334.2 521.5 L336.2 521.1 L338.2 520.6 L340.2 520.2 L342.2 519.7 L344.2 519.2 L346.2 518.8 L348.2 518.3 L350.2 517.9 L352.2 517.4 L354.2 517.0 L356.2 516.5 L358.2 516.0 L360.2 515.6 L362.2 515.1 L364.2 514.7 L366.2 514.2 L368.2 513.7 L370.2 513.3 L372.2 512.8 L374.2 512.3 L376.2 511.9 L378.2 511.4 L380.2 510.9 L382.2 510.5 L384.2 510.0 L386.2 509.5 L388.2 509.0 L390.2 508.6 L392.2 508.1 L394.2 507.6 L396.2 507.1 L398.2 506.6 L400.2 506.2 L402.2 505.7 L404.2 505.2 L406.2 504.7 L408.2 504.2 L410.2 503.7 L412.2 503.3 L414.2 502.8 L416.2 502.3 L418.2 501.8 L420.2 501.3 L422.2 500.8 L424.2 500.3 L426.2 499.8 L428.2 499.3 L430.2 498.8 L432.2 498.3 L434.2 497.8 L436.2 497.3 L438.2 496.8 L440.2 496.3 L442.2 495.8 L444.2 495.3 L446.2 494.8 L448.2 494.3 L450.2 493.8 L452.2 493.3 L454.2 492.8 L456.2 492.3 L458.2 491.8 L460.2 491.2 L462.2 490.7 L464.2 490.2 L466.2 489.7 L468.2 489.2 L470.2 488.6 L472.2 488.1 L474.2 487.6 L476.2 487.1 L478.2 486.6 L480.2 486.0 L482.2 485.5 L484.2 485.0 L486.2 484.4 L488.2 483.9 L490.2 483.4 L492.2 482.8 L494.2 482.3 L496.2 481.7 L498.2 481.2 L500.2 480.7 L502.2 480.1 L504.2 479.6 L506.2 479.0 L508.2 478.5 L510.2 477.9 L512.2 477.4 L514.2 476.8 L516.2 476.3 L518.2 475.7 L520.2 475.2 L522.2 474.6 L524.2 474.0 L526.2 473.5 L528.2 472.9 L530.2 472.3 L532.2 471.8 L534.2 471.2 L536.2 470.6 L538.2 470.1 L540.2 469.5 L542.2 468.9 L544.2 468.3 L546.2 467.8 L548.2 467.2 L550.2 466.6 L552.2 466.0 L554.2 465.4 L556.2 464.8 L558.2 464.2 L560.2 463.7 L562.2 463.1 L564.2 462.5 L566.2 461.9 L568.2 461.3 L570.2 460.7 L572.2 460.1 L574.2 459.5 L576.2 458.8 L578.2 458.2 L580.2 457.6 L582.2 457.0 L584.2 456.4 L586.2 455.8 L588.2 455.2 L590.2 454.5 L592.2 453.9 L594.2 453.3 L596.2 452.7 L598.2 452.0 L600.2 451.4 L602.2 450.8 L604.2 450.1 L606.2 449.5 L608.2 448.8 L610.2 448.2 L612.2 447.5 L614.2 446.9 L616.2 446.2 L618.2 445.6 L620.2 444.9 L622.2 444.3 L624.2 443.6 L626.2 443.0 L628.2 442.3 L630.2 441.6 L632.2 441.0 L634.2 440.3 L636.2 439.6 L638.2 438.9 L640.2 438.2 L642.2 437.6 L644.2 436.9 L646.2 436.2 L648.2 435.5 L650.2 434.8 L652.2 434.1 L654.2 433.4 L656.2 432.7 L658.2 432.0 L660.2 431.3 L662.2 430.6 L664.2 429.9 L666.2 429.1 L668.2 428.4 L670.2 427.7 L672.2 427.0 L674.2 426.2 L676.2 425.5 L678.2 424.8 L680.2 424.0 L682.2 423.3 L684.2 422.5 L686.2 421.8 L688.2 421.0 L690.2 420.3 L692.2 419.5 L694.2 418.7 L696.2 418.0 L698.2 417.2 L700.2 416.4 L702.2 415.7 L704.2 414.9 L706.2 414.1 L708.2 413.3 L710.2 412.5 L712.2 411.7 L714.2 410.9 L716.2 410.1 L718.2 409.3 L720.2 408.5 L722.2 407.7 L724.2 406.9 L726.2 406.0 L728.2 405.2 L730.2 404.4 L732.2 403.6 L734.2 402.7 L736.2 401.9 L738.2 401.0 L740.2 400.2 L742.2 399.3 L744.2 398.4 L746.2 397.6 L748.2 396.7 L750.2 395.8 L752.2 395.0 L754.2 394.1 L756.2 393.2 L758.2 392.3 L760.2 391.4 L762.2 390.5 L764.2 389.6 L766.2 388.7 L768.2 387.7 L770.2 386.8 L772.2 385.9 L774.2 384.9 L776.2 384.0 L778.2 383.1 L780.2 382.1 L782.2 381.1 L784.2 380.2 L786.2 379.2 L788.2 378.2 L790.2 377.3 L792.2 376.3 L794.2 375.3 L796.2 374.3 L798.2 373.3 L800.2 372.3 L802.2 371.2 L804.2 370.2 L806.2 369.2 L808.2 368.1 L810.2 367.1 L812.2 366.0 L814.2 365.0 L816.2 363.9 L818.2 362.8 L820.2 361.8 L822.2 360.7 L824.2 359.6 L826.2 358.5 L828.2 357.4 L830.2 356.3 L832.2 355.1 L834.2 354.0 L836.2 352.9 L838.2 351.7 L840.2 350.5 L842.2 349.4 L844.2 348.2 L846.2 347.0 L848.2 345.8 L850.2 344.6 L852.2 343.4 L854.2 342.2 L856.2 341.0 L858.2 339.7 L860.2 338.5 L862.2 337.2 L864.2 335.9 L866.2 334.7 L868.2 333.4 L870.2 332.1 L872.2 330.8 L874.2 329.4 L876.2 328.1 L878.2 326.8 L880.2 325.4 L882.2 324.1 L884.2 322.7 L886.2 321.3 L888.2 319.9 L890.2 318.5 L892.2 317.0 L894.2 315.6 L896.2 314.2 L898.2 312.7 L900.2 311.2 L902.2 309.7 L904.2 308.2 L906.2 306.7 L908.2 305.2 L910.2 303.6 L912.2 302.1 L914.2 300.5 L916.2 298.9 L918.2 297.3 L920.2 295.7 L922.2 294.0 L924.2 292.4 L926.2 290.7 L928.2 289.0 L930.2 287.3 L932.2 285.6 L934.2 283.8 L936.2 282.1 L938.2 280.3 L940.2 278.5 L942.2 276.7 L944.2 274.8 L946.2 273.0 L948.2 271.1 L950.2 269.2 L952.2 267.3 L954.2 265.4 L956.2 263.4 L958.2 261.5 L960.2 259.5 L962.2 257.4 L964.2 255.4 L966.2 253.4 L968.2 251.3 L970.2 249.2 L972.2 247.0 L974.2 244.9 L976.2 242.7 L978.2 240.5 L980.2 238.3 L982.2 236.1 L984.2 233.8 L986.2 231.5 L988.2 229.2 L990.2 226.9 L992.2 224.5 L994.2 222.1 L996.2 219.7 L998.2 217.3 L1000.2 214.9 L1002.2 212.4 L1004.2 209.9 L1006.2 207.4 L1008.2 204.9 L1010.2 202.4 L1012.2 199.8 L1014.2 197.3 L1016.2 194.7 L1018.2 192.1 L1020.2 189.6 L1022.2 187.0 L1024.2 184.4 L1026.2 181.9 L1028.2 179.3 L1030.2 176.8 L1032.2 174.3 L1034.2 171.8 L1036.2 169.3 L1038.2 166.9 L1040.2 164.6 L1042.2 162.3 L1044.2 160.0 L1046.2 157.9 L1048.2 155.8 L1050.2 153.8 L1052.2 151.9 L1054.2 150.1 L1056.2 148.4 L1058.2 146.9 L1060.2 145.5 L1062.2 144.2 L1064.2 143.1 L1066.2 142.2 L1068.2 141.4 L1070.2 140.9 L1072.2 140.5 L1074.2 140.2 L1076.2 140.2 L1078.2 140.4 L1080.2 140.7 L1082.2 141.2 L1084.2 141.9 L1086.2 142.8 L1088.2 143.9 L1090.2 145.1 L1092.2 146.4 L1094.2 147.9 L1096.2 149.5 L1098.2 151.3 L1100.2 153.1 L1102.2 155.1 L1104.2 157.1 L1106.2 159.3 L1108.2 161.5 L1110.2 163.8 L1112.2 166.1 L1114.2 168.5 L1116.2 170.9 L1118.2 173.3 L1120.2 175.8 L1122.2 178.3 L1124.2 180.9 L1126.2 183.4 L1128.2 185.9 L1130.2 188.5 L1132.2 191.0 L1134.2 193.6 L1136.2 196.1 L1138.2 198.7 L1140.2 201.2 L1142.2 203.7 L1144.2 206.2 L1146.2 208.7 L1148.2 211.1 L1150.2 213.6 L1152.2 216.0 L1154.2 218.4 L1156.2 220.8 L1158.2 223.2 L1160.2 225.5 L1162.2 227.8 L1164.2 230.1 L1166.2 232.4 L1168.2 234.6 L1170.2 236.9 L1172.2 239.1 L1174.2 241.2 L1176.2 243.4 L1178.2 245.5 L1180.2 247.6 L1182.2 249.7 L1184.2 251.8 L1186.2 253.8 L1188.2 255.9 L1190.2 257.9 L1192.2 259.8 L1194.2 261.8 L1196.2 263.7 L1198.2 265.6 L1200.2 267.5 L1202.2 269.4 L1204.2 271.3 L1206.2 273.1 L1208.2 274.9 L1210.2 276.7 L1212.2 278.5 L1214.2 280.3 L1216.2 282.0 L1218.2 283.7 L1220.2 285.4 L1222.2 287.1 L1224.2 288.8 L1226.2 290.4 L1228.2 292.1 L1230.2 293.7 L1232.2 295.3 L1234.2 296.9 L1236.2 298.5 L1238.2 300.0 L1240.2 301.6 L1242.2 303.1 L1244.2 304.6 L1246.2 306.1 L1248.2 307.6 L1250.2 309.1 L1252.2 310.5 L1254.2 312.0 L1256.2 313.4 L1258.2 314.8 L1260.2 316.3 L1262.2 317.6 L1264.2 319.0 L1266.2 320.4 L1268.2 321.8 L1270.2 323.1 L1272.2 324.4 L1274.2 325.8 L1276.2 327.1 L1278.2 328.4 L1280.2 329.7 L1282.2 331.0 L1284.2 332.2 L1286.2 333.5 L1288.2 334.7 L1290.2 336.0 L1292.2 337.2 L1294.2 338.4 L1296.2 339.6 L1298.2 340.9 L1300.2 342.0 L1302.2 343.2 L1304.2 344.4 L1306.2 345.6 L1308.2 346.7 L1310.2 347.9 L1312.2 349.0 L1314.2 350.1 L1316.2 351.3 L1318.2 352.4 L1320.2 353.5 L1322.2 354.6 L1324.2 355.7 L1326.2 356.8 L1328.2 357.8 L1330.2 358.9 L1332.2 360.0 L1334.2 361.0 L1336.2 362.1 L1338.2 363.1 L1340.2 364.2 L1342.2 365.2 L1344.2 366.2 L1346.2 367.2 L1348.2 368.2 L1350.2 369.2 L1352.2 370.2 L1354.2 371.2 L1356.2 372.2 L1358.2 373.2 L1360.2 374.1 L1362.2 375.1 L1364.2 376.1 L1366.2 377.0 L1368.2 378.0 L1370.2 378.9 L1372.2 379.8 L1374.2 380.8 L1376.2 381.7 L1378.2 382.6 L1380.2 383.5 L1382.2 384.4 L1384.2 385.3 L1386.2 386.2 L1388.2 387.1 L1390.2 388.0 L1392.2 388.9 L1394.2 389.8 L1396.2 390.6 L1398.2 391.5 L1400.2 392.4 L1402.2 393.2 L1404.2 394.1 L1406.2 394.9 L1408.2 395.8 L1410.2 396.6 L1412.2 397.4 L1414.2 398.3 L1416.2 399.1 L1418.2 399.9 L1420.2 400.7 L1422.2 401.6 L1424.2 402.4 L1426.2 403.2 L1428.2 404.0 L1430.2 404.8 L1432.2 405.6 L1434.2 406.4 L1436.2 407.1 L1438.2 407.9 L1440.2 408.7 L1442.2 409.5 L1444.2 410.3 L1446.2 411.0 L1448.2 411.8 L1450.2 412.5 L1452.2 413.3 L1454.2 414.1 L1456.2 414.8 L1458.2 415.6 L1460.2 416.3 L1462.2 417.0 L1464.2 417.8 L1466.2 418.5 L1468.2 419.2 L1470.2 420.0 L1472.2 420.7 L1474.2 421.4 L1476.2 422.1 L1478.2 422.8 L1480.2 423.5 L1482.2 424.3 L1484.2 425.0 L1486.2 425.7 L1488.2 426.4 L1490.2 427.1 L1492.2 427.8 L1494.2 428.4 L1496.2 429.1 L1498.2 429.8 L1500.2 430.5 L1502.2 431.2 L1504.2 431.9 L1506.2 432.5 L1508.2 433.2 L1510.2 433.9 L1512.2 434.5 L1514.2 435.2 L1516.2 435.9 L1518.2 436.5 L1520.2 437.2 L1522.2 437.8 L1524.2 438.5 L1526.2 439.1 L1528.2 439.8 L1530.2 440.4 L1532.2 441.1 L1534.2 441.7 L1536.2 442.3 L1538.2 443.0 L1540.2 443.6 L1542.2 444.2 L1544.2 444.8 L1546.2 445.5 L1548.2 446.1 L1550.2 446.7 L1552.2 447.3 L1554.2 448.0 L1556.2 448.6 L1558.2 449.2 L1560.2 449.8 L1562.2 450.4 L1564.2 451.0 L1566.2 451.6 L1568.2 452.2 L1570.2 452.8 L1572.2 453.4 L1574.2 454.0 L1576.2 454.6 L1578.2 455.2 L1580.2 455.8 L1582.2 456.4 L1584.2 456.9 L1586.2 457.5 L1588.2 458.1 L1590.2 458.7 L1592.2 459.3 L1594.2 459.8 L1596.2 460.4 L1598.2 461.0 L1600.2 461.6 L1602.2 462.1 L1604.2 462.7 L1606.2 463.3 L1608.2 463.8 L1610.2 464.4 L1612.2 465.0 L1614.2 465.5 L1616.2 466.1 L1618.2 466.6 L1620.2 467.2 L1622.2 467.7 L1624.2 468.3 L1626.2 468.8 L1628.2 469.4 L1630.2 469.9 L1632.2 470.5 L1634.2 471.0 L1636.2 471.6 L1638.2 472.1 L1640.2 472.6 L1642.2 473.2 L1644.2 473.7 L1646.2 474.2 L1648.2 474.8 L1650.2 475.3 L1652.2 475.8 L1654.2 476.4 L1656.2 476.9 L1658.2 477.4 L1660.2 477.9 L1662.2 478.5 L1664.2 479.0 L1666.2 479.5 L1668.2 480.0 L1670.2 480.5 L1672.2 481.1 L1674.2 481.6 L1676.2 482.1 L1678.2 482.6 L1680.2 483.1 L1682.2 483.6 L1684.2 484.1 L1686.2 484.6 L1688.2 485.1 L1690.2 485.6 L1692.2 486.1 L1694.2 486.6 L1696.2 487.1 L1698.2 487.6 L1700.2 488.1 L1700.6 488.2" stroke="#EDB120"/>
<path d="M212.0 524.0 L214.0 523.5 L216.0 523.0 L218.0 522.4 L220.0 521.9 L222.0 521.4 L224.0 520.8 L226.0 520.3 L228.0 519.8 L230.0 519.2 L232.0 518.7 L234.0 518.2 L236.0 517.6 L238.0 517.1 L240.0 516.6 L242.0 516.0 L244.0 515.5 L246.0 514.9 L248.0 514.4 L250.0 513.8 L252.0 513.3 L254.0 512.8 L256.0 512.2 L258.0 511.7 L260.0 511.1 L262.0 510.6 L264.0 510.0 L266.0 509.5 L268.0 508.9 L270.0 508.3 L272.0 507.8 L274.0 507.2 L276.0 506.7 L278.0 506.1 L280.0 505.5 L282.0 505.0 L284.0 504.4 L286.0 503.9 L288.0 503.3 L290.0 502.7 L292.0 502.2 L294.0 501.6 L296.0 501.0 L298.0 500.4 L300.0 499.9 L302.0 499.3 L304.0 498.7 L306.0 498.1 L308.0 497.6 L310.0 497.0 L312.0 496.4 L314.0 495.8 L316.0 495.2 L318.0 494.6 L320.0 494.1 L322.0 493.5 L324.0 492.9 L326.0 492.3 L328.0 491.7 L330.0 491.1 L332.0 490.5 L334.0 489.9 L336.0 489.3 L338.0 488.7 L340.0 488.1 L342.0 487.5 L344.0 486.9 L346.0 486.3 L348.0 485.7 L350.0 485.1 L352.0 484.5 L354.0 483.8 L356.0 483.2 L358.0 482.6 L360.0 482.0 L362.0 481.4 L364.0 480.8 L366.0 480.1 L368.0 479.5 L370.0 478.9 L372.0 478.3 L374.0 477.6 L376.0 477.0 L378.0 476.4 L380.0 475.7 L382.0 475.1 L384.0 474.4 L386.0 473.8 L388.0 473.2 L390.0 472.5 L392.0 471.9 L394.0 471.2 L396.0 470.6 L398.0 469.9 L400.0 469.3 L402.0 468.6 L404.0 467.9 L406.0 467.3 L408.0 466.6 L410.0 466.0 L412.0 465.3 L414.0 464.6 L416.0 464.0 L418.0 463.3 L420.0 462.6 L422.0 461.9 L424.0 461.2 L426.0 460.6 L428.0 459.9 L430.0 459.2 L432.0 458.5 L434.0 457.8 L436.0 457.1 L438.0 456.4 L440.0 455.7 L442.0 455.0 L444.0 454.3 L446.0 453.6 L448.0 452.9 L450.0 452.2 L452.0 451.5 L454.0 450.8 L456.0 450.1 L458.0 449.3 L460.0 448.6 L462.0 447.9 L464.0 447.2 L466.0 446.4 L468.0 445.7 L470.0 445.0 L472.0 444.2 L474.0 443.5 L476.0 442.7 L478.0 442.0 L480.0 441.2 L482.0 440.5 L484.0 439.7 L486.0 439.0 L488.0 438.2 L490.0 437.4 L492.0 436.7 L494.0 435.9 L496.0 435.1 L498.0 434.4 L500.0 433.6 L502.0 432.8 L504.0 432.0 L506.0 431.2 L508.0 430.4 L510.0 429.6 L512.0 428.8 L514.0 428.0 L516.0 427.2 L518.0 426.4 L520.0 425.6 L522.0 424.8 L524.0 423.9 L526.0 423.1 L528.0 422.3 L530.0 421.5 L532.0 420.6 L534.0 419.8 L536.0 418.9 L538.0 418.1 L540.0 417.2 L542.0 416.4 L544.0 415.5 L546.0 414.7 L548.0 413.8 L550.0 412.9 L552.0 412.0 L554.0 411.2 L556.0 410.3 L558.0 409.4 L560.0 408.5 L562.0 407.6 L564.0 406.7 L566.0 405.8 L568.0 404.9 L570.0 404.0 L572.0 403.0 L574.0 402.1 L576.0 401.2 L578.0 400.3 L580.0 399.3 L582.0 398.4 L584.0 397.4 L586.0 396.5 L588.0 395.5 L590.0 394.5 L592.0 393.6 L594.0 392.6 L596.0 391.6 L598.0 390.6 L600.0 389.6 L602.0 388.6 L604.0 387.6 L606.0 386.6 L608.0 385.6 L610.0 384.6 L612.0 383.6 L614.0 382.5 L616.0 381.5 L618.0 380.5 L620.0 379.4 L622.0 378.3 L624.0 377.3 L626.0 376.2 L628.0 375.1 L630.0 374.0 L632.0 373.0 L634.0 371.9 L636.0 370.7 L638.0 369.6 L640.0 368.5 L642.0 367.4 L644.0 366.3 L646.0 365.1 L648.0 364.0 L650.0 362.8 L652.0 361.6 L654.0 360.5 L656.0 359.3 L658.0 358.1 L660.0 356.9 L662.0 355.7 L664.0 354.5 L666.0 353.3 L668.0 352.0 L670.0 350.8 L672.0 349.5 L674.0 348.3 L676.0 347.0 L678.0 345.7 L680.0 344.4 L682.0 343.1 L684.0 341.8 L686.0 340.5 L688.0 339.2 L690.0 337.9 L692.0 336.5 L694.0 335.2 L696.0 333.8 L698.0 332.4 L700.0 331.0 L702.0 329.6 L704.0 328.2 L706.0 326.8 L708.0 325.3 L710.0 323.9 L712.0 322.4 L714.0 320.9 L716.0 319.4 L718.0 317.9 L720.0 316.4 L722.0 314.9 L724.0 313.4 L726.0 311.8 L728.0 310.2 L730.0 308.7 L732.0 307.1 L734.0 305.4 L736.0 303.8 L738.0 302.2 L740.0 300.5 L742.0 298.8 L744.0 297.1 L746.0 295.4 L748.0 293.7 L750.0 292.0 L752.0 290.2 L754.0 288.4 L756.0 286.6 L758.0 284.8 L760.0 283.0 L762.0 281.2 L764.0 279.3 L766.0 277.4 L768.0 275.5 L770.0 273.6 L772.0 271.6 L774.0 269.7 L776.0 267.7 L778.0 265.7 L780.0 263.6 L782.0 261.6 L784.0 259.5 L786.0 257.4 L788.0 255.3 L790.0 253.2 L792.0 251.0 L794.0 248.8 L796.0 246.6 L798.0 244.4 L800.0 242.1 L802.0 239.8 L804.0 237.5 L806.0 235.2 L808.0 232.9 L810.0 230.5 L812.0 228.1 L814.0 225.7 L816.0 223.3 L818.0 220.8 L820.0 218.3 L822.0 215.8 L824.0 213.3 L826.0 210.8 L828.0 208.2 L830.0 205.7 L832.0 203.1 L834.0 200.5 L836.0 197.9 L838.0 195.3 L840.0 192.6 L842.0 190.0 L844.0 187.4 L846.0 184.8 L848.0 182.2 L850.0 179.6 L852.0 177.0 L854.0 174.5 L856.0 171.9 L858.0 169.5 L860.0 167.0 L862.0 164.6 L864.0 162.3 L866.0 160.0 L868.0 157.8 L870.0 155.7 L872.0 153.7 L874.0 151.8 L876.0 150.0 L878.0 148.3 L880.0 146.8 L882.0 145.4 L884.0 144.1 L886.0 143.0 L888.0 142.1 L890.0 141.4 L892.0 140.8 L894.0 140.4 L896.0 140.2 L898.0 140.2 L900.0 140.4 L902.0 140.8 L904.0 141.3 L906.0 142.0 L908.0 142.9 L910.0 143.9 L912.0 145.1 L914.0 146.5 L916.0 148.0 L918.0 149.6 L920.0 151.3 L922.0 153.2 L924.0 155.1 L926.0 157.2 L928.0 159.3 L930.0 161.5 L932.0 163.7 L934.0 166.0 L936.0 168.3 L938.0 170.7 L940.0 173.1 L942.0 175.6 L944.0 178.0 L946.0 180.5 L948.0 183.0 L950.0 185.5 L952.0 188.0 L954.0 190.5 L956.0 193.0 L958.0 195.5 L960.0 197.9 L962.0 200.4 L964.0 202.9 L966.0 205.3 L968.0 207.7 L970.0 210.1 L972.0 212.5 L974.0 214.9 L976.0 217.2 L978.0 219.5 L980.0 221.8 L982.0 224.1 L984.0 226.3 L986.0 228.6 L988.0 230.8 L990.0 233.0 L992.0 235.1 L994.0 237.3 L996.0 239.4 L998.0 241.5 L1000.0 243.5 L1002.0 245.6 L1004.0 247.6 L1006.0 249.6 L1008.0 251.6 L1010.0 253.6 L1012.0 255.5 L1014.0 257.4 L1016.0 259.3 L1018.0 261.2 L1020.0 263.0 L1022.0 264.8 L1024.0 266.7 L1026.0 268.4 L1028.0 270.2 L1030.0 272.0 L1032.0 273.7 L1034.0 275.4 L1036.0 277.1 L1038.0 278.8 L1040.0 280.4 L1042.0 282.1 L1044.0 283.7 L1046.0 285.3 L1048.0 286.9 L1050.0 288.5 L1052.0 290.0 L1054.0 291.6 L1056.0 293.1 L1058.0 294.6 L1060.0 296.1 L1062.0 297.6 L1064.0 299.0 L1066.0 300.5 L1068.0 301.9 L1070.0 303.3 L1072.0 304.7 L1074.0 306.1 L1076.0 307.5 L1078.0 308.9 L1080.0 310.2 L1082.0 311.6 L1084.0 312.9 L1086.0 314.2 L1088.0 315.5 L1090.0 316.8 L1092.0 318.1 L1094.0 319.4 L1096.0 320.6 L1098.0 321.9 L1100.0 323.1 L1102.0 324.3 L1104.0 325.6 L1106.0 326.8 L1108.0 328.0 L1110.0 329.1 L1112.0 330.3 L1114.0 331.5 L1116.0 332.6 L1118.0 333.8 L1120.0 334.9 L1122.0 336.0 L1124.0 337.2 L1126.0 338.3 L1128.0 339.4 L1130.0 340.4 L1132.0 341.5 L1134.0 342.6 L1136.0 343.7 L1138.0 344.7 L1140.0 345.8 L1142.0 346.8 L1144.0 347.8 L1146.0 348.9 L1148.0 349.9 L1150.0 350.9 L1152.0 351.9 L1154.0 352.9 L1156.0 353.9 L1158.0 354.8 L1160.0 355.8 L1162.0 356.8 L1164.0 357.7 L1166.0 358.7 L1168.0 359.6 L1170.0 360.6 L1172.0 361.5 L1174.0 362.4 L1176.0 363.3 L1178.0 364.3 L1180.0 365.2 L1182.0 366.1 L1184.0 366.9 L1186.0 367.8 L1188.0 368.7 L1190.0 369.6 L1192.0 370.5 L1194.0 371.3 L1196.0 372.2 L1198.0 373.0 L1200.0 373.9 L1202.0 374.7 L1204.0 375.6 L1206.0 376.4 L1208.0 377.2 L1210.0 378.0 L1212.0 378.8 L1214.0 379.7 L1216.0 380.5 L1218.0 381.3 L1220.0 382.1 L1222.0 382.8 L1224.0 383.6 L1226.0 384.4 L1228.0 385.2 L1230.0 386.0 L1232.0 386.7 L1234.0 387.5 L1236.0 388.2 L1238.0 389.0 L1240.0 389.7 L1242.0 390.5 L1244.0 391.2 L1246.0 392.0 L1248.0 392.7 L1250.0 393.4 L1252.0 394.1 L1254.0 394.9 L1256.0 395.6 L1258.0 396.3 L1260.0 397.0 L1262.0 397.7 L1264.0 398.4 L1266.0 399.1 L1268.0 399.8 L1270.0 400.5 L1272.0 401.1 L1274.0 401.8 L1276.0 402.5 L1278.0 403.2 L1280.0 403.8 L1282.0 404.5 L1284.0 405.2 L1286.0 405.8 L1288.0 406.5 L1290.0 407.1 L1292.0 407.8 L1294.0 408.4 L1296.0 409.1 L1298.0 409.7 L1300.0 410.4 L1302.0 411.0 L1304.0 411.6 L1306.0 412.2 L1308.0 412.9 L1310.0 413.5 L1312.0 414.1 L1314.0 414.7 L1316.0 415.3 L1318.0 415.9 L1320.0 416.5 L1322.0 417.1 L1324.0 417.7 L1326.0 418.3 L1328.0 418.9 L1330.0 419.5 L1332.0 420.1 L1334.0 420.7 L1336.0 421.3 L1338.0 421.8 L1340.0 422.4 L1342.0 423.0 L1344.0 423.6 L1346.0 424.1 L1348.0 424.7 L1350.0 425.3 L1352.0 425.8 L1354.0 426.4 L1356.0 426.9 L1358.0 427.5 L1360.0 428.0 L1362.0 428.6 L1364.0 429.1 L1366.0 429.7 L1368.0 430.2 L1370.0 430.8 L1372.0 431.3 L1374.0 431.8 L1376.0 432.4 L1378.0 432.9 L1380.0 433.4 L1382.0 433.9 L1384.0 434.5 L1386.0 435.0 L1388.0 435.5 L1390.0 436.0 L1392.0 436.5 L1394.0 437.0 L1396.0 437.5 L1398.0 438.0 L1400.0 438.6 L1402.0 439.1 L1404.0 439.6 L1406.0 440.1 L1408.0 440.6 L1410.0 441.0 L1412.0 441.5 L1414.0 442.0 L1416.0 442.5 L1418.0 443.0 L1420.0 443.5 L1422.0 444.0 L1424.0 444.4 L1426.0 444.9 L1428.0 445.4 L1430.0 445.9 L1432.0 446.4 L1434.0 446.8 L1436.0 447.3 L1438.0 447.8 L1440.0 448.2 L1442.0 448.7 L1444.0 449.2 L1446.0 449.6 L1448.0 450.1 L1450.0 450.5 L1452.0 451.0 L1454.0 451.4 L1456.0 451.9 L1458.0 452.3 L1460.0 452.8 L1462.0 453.2 L1464.0 453.7 L1466.0 454.1 L1468.0 454.6 L1470.0 455.0 L1472.0 455.4 L1474.0 455.9 L1476.0 456.3 L1478.0 456.7 L1480.0 457.2 L1482.0 457.6 L1484.0 458.0 L1486.0 458.5 L1488.0 458.9 L1490.0 459.3 L1492.0 459.7 L1494.0 460.1 L1496.0 460.6 L1498.0 461.0 L1500.0 461.4 L1502.0 461.8 L1504.0 462.2 L1506.0 462.6 L1508.0 463.1 L1510.0 463.5 L1512.0 463.9 L1514.0 464.3 L1516.0 464.7 L1518.0 465.1 L1520.0 465.5 L1522.0 465.9 L1524.0 466.3 L1526.0 466.7 L1528.0 467.1 L1530.0 467.5 L1532.0 467.9 L1534.0 468.3 L1536.0 468.6 L1538.0 469.0 L1540.0 469.4 L1542.0 469.8 L1544.0 470.2 L1546.0 470.6 L1548.0 471.0 L1550.0 471.4 L1552.0 471.7 L1554.0 472.1 L1556.0 472.5 L1558.0 472.9 L1560.0 473.2 L1562.0 473.6 L1564.0 474.0 L1566.0 474.4 L1568.0 474.7 L1570.0 475.1 L1572.0 475.5 L1574.0 475.8 L1576.0 476.2 L1578.0 476.6 L1580.0 476.9 L1582.0 477.3 L1584.0 477.7 L1586.0 478.0 L1588.0 478.4 L1590.0 478.7 L1592.0 479.1 L1594.0 479.4 L1596.0 479.8 L1598.0 480.2 L1600.0 480.5 L1602.0 480.9 L1604.0 481.2 L1606.0 481.6 L1608.0 481.9 L1610.0 482.3 L1612.0 482.6 L1614.0 482.9 L1616.0 483.3 L1618.0 483.6 L1620.0 484.0 L1622.0 484.3 L1624.0 484.7 L1626.0 485.0 L1628.0 485.3 L1630.0 485.7 L1632.0 486.0 L1634.0 486.3 L1636.0 486.7 L1638.0 487.0 L1640.0 487.3 L1642.0 487.7 L1644.0 488.0 L1646.0 488.3 L1648.0 488.6 L1650.0 489.0 L1652.0 489.3 L1654.0 489.6 L1656.0 490.0 L1658.0 490.3 L1660.0 490.6 L1662.0 490.9 L1664.0 491.2 L1666.0 491.6 L1668.0 491.9 L1670.0 492.2 L1672.0 492.5 L1674.0 492.8 L1676.0 493.1 L1678.0 493.5 L1680.0 493.8 L1682.0 494.1 L1684.0 494.4 L1686.0 494.7 L1688.0 495.0 L1690.0 495.3 L1692.0 495.6 L1694.0 495.9 L1696.0 496.2 L1698.0 496.5 L1700.0 496.8 L1700.6 496.9" stroke="#7E2F8E"/>
</g>
<g id="ax2" fill="#262626">
<rect x="212" y="928" width="1488" height="7"/>
<rect x="703" y="720" width="8" height="420"/>
<rect x="1201" y="720" width="8" height="420"/>
<rect x="212" y="718" width="1491" height="8"/>
<rect x="209" y="1134" width="1494" height="8"/>
<rect x="209" y="721" width="7" height="421"/>
<rect x="1696" y="718" width="7" height="424"/>
</g>
<g id="curves2" clip-path="url(#c2)" fill="none" stroke-width="8.2" stroke-linejoin="round" shape-rendering="crispEdges">
<path d="M212.0 755.7 L214.0 755.7 L216.0 755.7 L218.0 755.7 L220.0 755.7 L222.0 755.7 L224.0 755.7 L226.0 755.7 L228.0 755.7 L230.0 755.7 L232.0 755.8 L234.0 755.8 L236.0 755.8 L238.0 755.8 L240.0 755.8 L242.0 755.8 L244.0 755.8 L246.0 755.8 L248.0 755.8 L250.0 755.8 L252.0 755.9 L254.0 755.9 L256.0 755.9 L258.0 755.9 L260.0 755.9 L262.0 755.9 L264.0 755.9 L266.0 755.9 L268.0 755.9 L270.0 756.0 L272.0 756.0 L274.0 756.0 L276.0 756.0 L278.0 756.0 L280.0 756.0 L282.0 756.0 L284.0 756.0 L286.0 756.0 L288.0 756.1 L290.0 756.1 L292.0 756.1 L294.0 756.1 L296.0 756.1 L298.0 756.1 L300.0 756.1 L302.0 756.1 L304.0 756.2 L306.0 756.2 L308.0 756.2 L310.0 756.2 L312.0 756.2 L314.0 756.2 L316.0 756.2 L318.0 756.2 L320.0 756.3 L322.0 756.3 L324.0 756.3 L326.0 756.3 L328.0 756.3 L330.0 756.3 L332.0 756.3 L334.0 756.4 L336.0 756.4 L338.0 756.4 L340.0 756.4 L342.0 756.4 L344.0 756.4 L346.0 756.4 L348.0 756.5 L350.0 756.5 L352.0 756.5 L354.0 756.5 L356.0 756.5 L358.0 756.5 L360.0 756.6 L362.0 756.6 L364.0 756.6 L366.0 756.6 L368.0 756.6 L370.0 756.6 L372.0 756.6 L374.0 756.7 L376.0 756.7 L378.0 756.7 L380.0 756.7 L382.0 756.7 L384.0 756.7 L386.0 756.8 L388.0 756.8 L390.0 756.8 L392.0 756.8 L394.0 756.8 L396.0 756.9 L398.0 756.9 L400.0 756.9 L402.0 756.9 L404.0 756.9 L406.0 756.9 L408.0 757.0 L410.0 757.0 L412.0 757.0 L414.0 757.0 L416.0 757.0 L418.0 757.1 L420.0 757.1 L422.0 757.1 L424.0 757.1 L426.0 757.1 L428.0 757.2 L430.0 757.2 L432.0 757.2 L434.0 757.2 L436.0 757.2 L438.0 757.3 L440.0 757.3 L442.0 757.3 L444.0 757.3 L446.0 757.3 L448.0 757.4 L450.0 757.4 L452.0 757.4 L454.0 757.4 L456.0 757.4 L458.0 757.5 L460.0 757.5 L462.0 757.5 L464.0 757.5 L466.0 757.6 L468.0 757.6 L470.0 757.6 L472.0 757.6 L474.0 757.7 L476.0 757.7 L478.0 757.7 L480.0 757.7 L482.0 757.7 L484.0 757.8 L486.0 757.8 L488.0 757.8 L490.0 757.8 L492.0 757.9 L494.0 757.9 L496.0 757.9 L498.0 757.9 L500.0 758.0 L502.0 758.0 L504.0 758.0 L506.0 758.1 L508.0 758.1 L510.0 758.1 L512.0 758.1 L514.0 758.2 L516.0 758.2 L518.0 758.2 L520.0 758.2 L522.0 758.3 L524.0 758.3 L526.0 758.3 L528.0 758.4 L530.0 758.4 L532.0 758.4 L534.0 758.4 L536.0 758.5 L538.0 758.5 L540.0 758.5 L542.0 758.6 L544.0 758.6 L546.0 758.6 L548.0 758.7 L550.0 758.7 L552.0 758.7 L554.0 758.8 L556.0 758.8 L558.0 758.8 L560.0 758.8 L562.0 758.9 L564.0 758.9 L566.0 758.9 L568.0 759.0 L570.0 759.0 L572.0 759.1 L574.0 759.1 L576.0 759.1 L578.0 759.2 L580.0 759.2 L582.0 759.2 L584.0 759.3 L586.0 759.3 L588.0 759.3 L590.0 759.4 L592.0 759.4 L594.0 759.4 L596.0 759.5 L598.0 759.5 L600.0 759.6 L602.0 759.6 L604.0 759.6 L606.0 759.7 L608.0 759.7 L610.0 759.8 L612.0 759.8 L614.0 759.8 L616.0 759.9 L618.0 759.9 L620.0 760.0 L622.0 760.0 L624.0 760.0 L626.0 760.1 L628.0 760.1 L630.0 760.2 L632.0 760.2 L634.0 760.3 L636.0 760.3 L638.0 760.4 L640.0 760.4 L642.0 760.4 L644.0 760.5 L646.0 760.5 L648.0 760.6 L650.0 760.6 L652.0 760.7 L654.0 760.7 L656.0 760.8 L658.0 760.8 L660.0 760.9 L662.0 760.9 L664.0 761.0 L666.0 761.0 L668.0 761.1 L670.0 761.1 L672.0 761.2 L674.0 761.2 L676.0 761.3 L678.0 761.3 L680.0 761.4 L682.0 761.5 L684.0 761.5 L686.0 761.6 L688.0 761.6 L690.0 761.7 L692.0 761.7 L694.0 761.8 L696.0 761.9 L698.0 761.9 L700.0 762.0 L702.0 762.0 L704.0 762.1 L706.0 762.2 L708.0 762.2 L710.0 762.3 L712.0 762.4 L714.0 762.4 L716.0 762.5 L718.0 762.5 L720.0 762.6 L722.0 762.7 L724.0 762.7 L726.0 762.8 L728.0 762.9 L730.0 763.0 L732.0 763.0 L734.0 763.1 L736.0 763.2 L738.0 763.2 L740.0 763.3 L742.0 763.4 L744.0 763.5 L746.0 763.5 L748.0 763.6 L750.0 763.7 L752.0 763.8 L754.0 763.9 L756.0 763.9 L758.0 764.0 L760.0 764.1 L762.0 764.2 L764.0 764.3 L766.0 764.3 L768.0 764.4 L770.0 764.5 L772.0 764.6 L774.0 764.7 L776.0 764.8 L778.0 764.9 L780.0 765.0 L782.0 765.1 L784.0 765.2 L786.0 765.2 L788.0 765.3 L790.0 765.4 L792.0 765.5 L794.0 765.6 L796.0 765.7 L798.0 765.8 L800.0 765.9 L802.0 766.0 L804.0 766.1 L806.0 766.3 L808.0 766.4 L810.0 766.5 L812.0 766.6 L814.0 766.7 L816.0 766.8 L818.0 766.9 L820.0 767.0 L822.0 767.2 L824.0 767.3 L826.0 767.4 L828.0 767.5 L830.0 767.6 L832.0 767.8 L834.0 767.9 L836.0 768.0 L838.0 768.2 L840.0 768.3 L842.0 768.4 L844.0 768.6 L846.0 768.7 L848.0 768.8 L850.0 769.0 L852.0 769.1 L854.0 769.3 L856.0 769.4 L858.0 769.6 L860.0 769.7 L862.0 769.9 L864.0 770.0 L866.0 770.2 L868.0 770.3 L870.0 770.5 L872.0 770.7 L874.0 770.8 L876.0 771.0 L878.0 771.2 L880.0 771.4 L882.0 771.5 L884.0 771.7 L886.0 771.9 L888.0 772.1 L890.0 772.3 L892.0 772.5 L894.0 772.7 L896.0 772.9 L898.0 773.1 L900.0 773.3 L902.0 773.5 L904.0 773.7 L906.0 773.9 L908.0 774.1 L910.0 774.4 L912.0 774.6 L914.0 774.8 L916.0 775.1 L918.0 775.3 L920.0 775.5 L922.0 775.8 L924.0 776.1 L926.0 776.3 L928.0 776.6 L930.0 776.8 L932.0 777.1 L934.0 777.4 L936.0 777.7 L938.0 778.0 L940.0 778.2 L942.0 778.5 L944.0 778.9 L946.0 779.2 L948.0 779.5 L950.0 779.8 L952.0 780.1 L954.0 780.5 L956.0 780.8 L958.0 781.2 L960.0 781.5 L962.0 781.9 L964.0 782.3 L966.0 782.6 L968.0 783.0 L970.0 783.4 L972.0 783.8 L974.0 784.2 L976.0 784.7 L978.0 785.1 L980.0 785.5 L982.0 786.0 L984.0 786.5 L986.0 786.9 L988.0 787.4 L990.0 787.9 L992.0 788.4 L994.0 789.0 L996.0 789.5 L998.0 790.1 L1000.0 790.6 L1002.0 791.2 L1004.0 791.8 L1006.0 792.4 L1008.0 793.0 L1010.0 793.7 L1012.0 794.3 L1014.0 795.0 L1016.0 795.7 L1018.0 796.4 L1020.0 797.2 L1022.0 797.9 L1024.0 798.7 L1026.0 799.5 L1028.0 800.4 L1030.0 801.2 L1032.0 802.1 L1034.0 803.0 L1036.0 803.9 L1038.0 804.9 L1040.0 805.9 L1042.0 806.9 L1044.0 808.0 L1046.0 809.1 L1048.0 810.2 L1050.0 811.4 L1052.0 812.6 L1054.0 813.8 L1056.0 815.1 L1058.0 816.5 L1060.0 817.9 L1062.0 819.3 L1064.0 820.8 L1066.0 822.4 L1068.0 824.0 L1070.0 825.6 L1072.0 827.3 L1074.0 829.1 L1076.0 831.0 L1078.0 832.9 L1080.0 834.9 L1082.0 837.0 L1084.0 839.2 L1086.0 841.4 L1088.0 843.7 L1090.0 846.1 L1092.0 848.7 L1094.0 851.3 L1096.0 854.0 L1098.0 856.8 L1100.0 859.7 L1102.0 862.7 L1104.0 865.8 L1106.0 869.1 L1108.0 872.4 L1110.0 875.8 L1112.0 879.4 L1114.0 883.1 L1116.0 886.8 L1118.0 890.7 L1120.0 894.7 L1122.0 898.7 L1124.0 902.9 L1126.0 907.1 L1128.0 911.4 L1130.0 915.7 L1132.0 920.1 L1134.0 924.6 L1136.0 929.0 L1138.0 933.5 L1140.0 937.9 L1142.0 942.4 L1144.0 946.8 L1146.0 951.2 L1148.0 955.5 L1150.0 959.8 L1152.0 964.0 L1154.0 968.1 L1156.0 972.2 L1158.0 976.1 L1160.0 980.0 L1162.0 983.7 L1164.0 987.3 L1166.0 990.9 L1168.0 994.3 L1170.0 997.6 L1172.0 1000.8 L1174.0 1003.9 L1176.0 1006.9 L1178.0 1009.8 L1180.0 1012.6 L1182.0 1015.2 L1184.0 1017.8 L1186.0 1020.3 L1188.0 1022.7 L1190.0 1025.0 L1192.0 1027.2 L1194.0 1029.4 L1196.0 1031.4 L1198.0 1033.4 L1200.0 1035.3 L1202.0 1037.2 L1204.0 1038.9 L1206.0 1040.6 L1208.0 1042.3 L1210.0 1043.9 L1212.0 1045.4 L1214.0 1046.9 L1216.0 1048.3 L1218.0 1049.7 L1220.0 1051.0 L1222.0 1052.3 L1224.0 1053.5 L1226.0 1054.7 L1228.0 1055.9 L1230.0 1057.0 L1232.0 1058.1 L1234.0 1059.2 L1236.0 1060.2 L1238.0 1061.2 L1240.0 1062.1 L1242.0 1063.1 L1244.0 1064.0 L1246.0 1064.8 L1248.0 1065.7 L1250.0 1066.5 L1252.0 1067.3 L1254.0 1068.1 L1256.0 1068.8 L1258.0 1069.6 L1260.0 1070.3 L1262.0 1071.0 L1264.0 1071.7 L1266.0 1072.3 L1268.0 1073.0 L1270.0 1073.6 L1272.0 1074.2 L1274.0 1074.8 L1276.0 1075.4 L1278.0 1075.9 L1280.0 1076.5 L1282.0 1077.0 L1284.0 1077.5 L1286.0 1078.0 L1288.0 1078.5 L1290.0 1079.0 L1292.0 1079.5 L1294.0 1080.0 L1296.0 1080.4 L1298.0 1080.8 L1300.0 1081.3 L1302.0 1081.7 L1304.0 1082.1 L1306.0 1082.5 L1308.0 1082.9 L1310.0 1083.3 L1312.0 1083.7 L1314.0 1084.0 L1316.0 1084.4 L1318.0 1084.8 L1320.0 1085.1 L1322.0 1085.5 L1324.0 1085.8 L1326.0 1086.1 L1328.0 1086.4 L1330.0 1086.8 L1332.0 1087.1 L1334.0 1087.4 L1336.0 1087.7 L1338.0 1088.0 L1340.0 1088.2 L1342.0 1088.5 L1344.0 1088.8 L1346.0 1089.1 L1348.0 1089.3 L1350.0 1089.6 L1352.0 1089.9 L1354.0 1090.1 L1356.0 1090.4 L1358.0 1090.6 L1360.0 1090.8 L1362.0 1091.1 L1364.0 1091.3 L1366.0 1091.5 L1368.0 1091.8 L1370.0 1092.0 L1372.0 1092.2 L1374.0 1092.4 L1376.0 1092.6 L1378.0 1092.8 L1380.0 1093.0 L1382.0 1093.2 L1384.0 1093.4 L1386.0 1093.6 L1388.0 1093.8 L1390.0 1094.0 L1392.0 1094.2 L1394.0 1094.3 L1396.0 1094.5 L1398.0 1094.7 L1400.0 1094.9 L1402.0 1095.0 L1404.0 1095.2 L1406.0 1095.4 L1408.0 1095.5 L1410.0 1095.7 L1412.0 1095.9 L1414.0 1096.0 L1416.0 1096.2 L1418.0 1096.3 L1420.0 1096.5 L1422.0 1096.6 L1424.0 1096.8 L1426.0 1096.9 L1428.0 1097.1 L1430.0 1097.2 L1432.0 1097.3 L1434.0 1097.5 L1436.0 1097.6 L1438.0 1097.7 L1440.0 1097.9 L1442.0 1098.0 L1444.0 1098.1 L1446.0 1098.2 L1448.0 1098.4 L1450.0 1098.5 L1452.0 1098.6 L1454.0 1098.7 L1456.0 1098.8 L1458.0 1099.0 L1460.0 1099.1 L1462.0 1099.2 L1464.0 1099.3 L1466.0 1099.4 L1468.0 1099.5 L1470.0 1099.6 L1472.0 1099.7 L1474.0 1099.8 L1476.0 1099.9 L1478.0 1100.1 L1480.0 1100.2 L1482.0 1100.3 L1484.0 1100.4 L1486.0 1100.5 L1488.0 1100.5 L1490.0 1100.6 L1492.0 1100.7 L1494.0 1100.8 L1496.0 1100.9 L1498.0 1101.0 L1500.0 1101.1 L1502.0 1101.2 L1504.0 1101.3 L1506.0 1101.4 L1508.0 1101.5 L1510.0 1101.5 L1512.0 1101.6 L1514.0 1101.7 L1516.0 1101.8 L1518.0 1101.9 L1520.0 1102.0 L1522.0 1102.0 L1524.0 1102.1 L1526.0 1102.2 L1528.0 1102.3 L1530.0 1102.4 L1532.0 1102.4 L1534.0 1102.5 L1536.0 1102.6 L1538.0 1102.7 L1540.0 1102.7 L1542.0 1102.8 L1544.0 1102.9 L1546.0 1102.9 L1548.0 1103.0 L1550.0 1103.1 L1552.0 1103.1 L1554.0 1103.2 L1556.0 1103.3 L1558.0 1103.3 L1560.0 1103.4 L1562.0 1103.5 L1564.0 1103.5 L1566.0 1103.6 L1568.0 1103.7 L1570.0 1103.7 L1572.0 1103.8 L1574.0 1103.9 L1576.0 1103.9 L1578.0 1104.0 L1580.0 1104.0 L1582.0 1104.1 L1584.0 1104.2 L1586.0 1104.2 L1588.0 1104.3 L1590.0 1104.3 L1592.0 1104.4 L1594.0 1104.4 L1596.0 1104.5 L1598.0 1104.6 L1600.0 1104.6 L1602.0 1104.7 L1604.0 1104.7 L1606.0 1104.8 L1608.0 1104.8 L1610.0 1104.9 L1612.0 1104.9 L1614.0 1105.0 L1616.0 1105.0 L1618.0 1105.1 L1620.0 1105.1 L1622.0 1105.2 L1624.0 1105.2 L1626.0 1105.3 L1628.0 1105.3 L1630.0 1105.4 L1632.0 1105.4 L1634.0 1105.5 L1636.0 1105.5 L1638.0 1105.6 L1640.0 1105.6 L1642.0 1105.6 L1644.0 1105.7 L1646.0 1105.7 L1648.0 1105.8 L1650.0 1105.8 L1652.0 1105.9 L1654.0 1105.9 L1656.0 1106.0 L1658.0 1106.0 L1660.0 1106.0 L1662.0 1106.1 L1664.0 1106.1 L1666.0 1106.2 L1668.0 1106.2 L1670.0 1106.2 L1672.0 1106.3 L1674.0 1106.3 L1676.0 1106.4 L1678.0 1106.4 L1680.0 1106.4 L1682.0 1106.5 L1684.0 1106.5 L1686.0 1106.5 L1688.0 1106.6 L1690.0 1106.6 L1692.0 1106.7 L1694.0 1106.7 L1696.0 1106.7 L1698.0 1106.8 L1699.8 1106.8" stroke="#000000"/>
<path d="M212.0 755.7 L214.0 755.7 L216.0 755.7 L218.0 755.7 L220.0 755.7 L222.0 755.7 L224.0 755.7 L226.0 755.8 L228.0 755.8 L230.0 755.8 L232.0 755.8 L234.0 755.8 L236.0 755.8 L238.0 755.8 L240.0 755.8 L242.0 755.8 L244.0 755.9 L246.0 755.9 L248.0 755.9 L250.0 755.9 L252.0 755.9 L254.0 755.9 L256.0 755.9 L258.0 755.9 L260.0 756.0 L262.0 756.0 L264.0 756.0 L266.0 756.0 L268.0 756.0 L270.0 756.0 L272.0 756.0 L274.0 756.0 L276.0 756.1 L278.0 756.1 L280.0 756.1 L282.0 756.1 L284.0 756.1 L286.0 756.1 L288.0 756.1 L290.0 756.1 L292.0 756.2 L294.0 756.2 L296.0 756.2 L298.0 756.2 L300.0 756.2 L302.0 756.2 L304.0 756.2 L306.0 756.3 L308.0 756.3 L310.0 756.3 L312.0 756.3 L314.0 756.3 L316.0 756.3 L318.0 756.3 L320.0 756.4 L322.0 756.4 L324.0 756.4 L326.0 756.4 L328.0 756.4 L330.0 756.4 L332.0 756.5 L334.0 756.5 L336.0 756.5 L338.0 756.5 L340.0 756.5 L342.0 756.5 L344.0 756.5 L346.0 756.6 L348.0 756.6 L350.0 756.6 L352.0 756.6 L354.0 756.6 L356.0 756.6 L358.0 756.7 L360.0 756.7 L362.0 756.7 L364.0 756.7 L366.0 756.7 L368.0 756.8 L370.0 756.8 L372.0 756.8 L374.0 756.8 L376.0 756.8 L378.0 756.8 L380.0 756.9 L382.0 756.9 L384.0 756.9 L386.0 756.9 L388.0 756.9 L390.0 757.0 L392.0 757.0 L394.0 757.0 L396.0 757.0 L398.0 757.0 L400.0 757.0 L402.0 757.1 L404.0 757.1 L406.0 757.1 L408.0 757.1 L410.0 757.1 L412.0 757.2 L414.0 757.2 L416.0 757.2 L418.0 757.2 L420.0 757.2 L422.0 757.3 L424.0 757.3 L426.0 757.3 L428.0 757.3 L430.0 757.4 L432.0 757.4 L434.0 757.4 L436.0 757.4 L438.0 757.4 L440.0 757.5 L442.0 757.5 L444.0 757.5 L446.0 757.5 L448.0 757.6 L450.0 757.6 L452.0 757.6 L454.0 757.6 L456.0 757.6 L458.0 757.7 L460.0 757.7 L462.0 757.7 L464.0 757.7 L466.0 757.8 L468.0 757.8 L470.0 757.8 L472.0 757.8 L474.0 757.9 L476.0 757.9 L478.0 757.9 L480.0 757.9 L482.0 758.0 L484.0 758.0 L486.0 758.0 L488.0 758.0 L490.0 758.1 L492.0 758.1 L494.0 758.1 L496.0 758.1 L498.0 758.2 L500.0 758.2 L502.0 758.2 L504.0 758.3 L506.0 758.3 L508.0 758.3 L510.0 758.3 L512.0 758.4 L514.0 758.4 L516.0 758.4 L518.0 758.5 L520.0 758.5 L522.0 758.5 L524.0 758.5 L526.0 758.6 L528.0 758.6 L530.0 758.6 L532.0 758.7 L534.0 758.7 L536.0 758.7 L538.0 758.8 L540.0 758.8 L542.0 758.8 L544.0 758.8 L546.0 758.9 L548.0 758.9 L550.0 758.9 L552.0 759.0 L554.0 759.0 L556.0 759.0 L558.0 759.1 L560.0 759.1 L562.0 759.1 L564.0 759.2 L566.0 759.2 L568.0 759.2 L570.0 759.3 L572.0 759.3 L574.0 759.4 L576.0 759.4 L578.0 759.4 L580.0 759.5 L582.0 759.5 L584.0 759.5 L586.0 759.6 L588.0 759.6 L590.0 759.7 L592.0 759.7 L594.0 759.7 L596.0 759.8 L598.0 759.8 L600.0 759.8 L602.0 759.9 L604.0 759.9 L606.0 760.0 L608.0 760.0 L610.0 760.0 L612.0 760.1 L614.0 760.1 L616.0 760.2 L618.0 760.2 L620.0 760.3 L622.0 760.3 L624.0 760.3 L626.0 760.4 L628.0 760.4 L630.0 760.5 L632.0 760.5 L634.0 760.6 L636.0 760.6 L638.0 760.7 L640.0 760.7 L642.0 760.8 L644.0 760.8 L646.0 760.9 L648.0 760.9 L650.0 760.9 L652.0 761.0 L654.0 761.0 L656.0 761.1 L658.0 761.1 L660.0 761.2 L662.0 761.3 L664.0 761.3 L666.0 761.4 L668.0 761.4 L670.0 761.5 L672.0 761.5 L674.0 761.6 L676.0 761.6 L678.0 761.7 L680.0 761.7 L682.0 761.8 L684.0 761.8 L686.0 761.9 L688.0 762.0 L690.0 762.0 L692.0 762.1 L694.0 762.1 L696.0 762.2 L698.0 762.3 L700.0 762.3 L702.0 762.4 L704.0 762.4 L706.0 762.5 L708.0 762.6 L710.0 762.6 L712.0 762.7 L714.0 762.8 L716.0 762.8 L718.0 762.9 L720.0 763.0 L722.0 763.0 L724.0 763.1 L726.0 763.2 L728.0 763.2 L730.0 763.3 L732.0 763.4 L734.0 763.5 L736.0 763.5 L738.0 763.6 L740.0 763.7 L742.0 763.8 L744.0 763.8 L746.0 763.9 L748.0 764.0 L750.0 764.1 L752.0 764.1 L754.0 764.2 L756.0 764.3 L758.0 764.4 L760.0 764.5 L762.0 764.6 L764.0 764.6 L766.0 764.7 L768.0 764.8 L770.0 764.9 L772.0 765.0 L774.0 765.1 L776.0 765.2 L778.0 765.3 L780.0 765.4 L782.0 765.5 L784.0 765.5 L786.0 765.6 L788.0 765.7 L790.0 765.8 L792.0 765.9 L794.0 766.0 L796.0 766.1 L798.0 766.2 L800.0 766.3 L802.0 766.5 L804.0 766.6 L806.0 766.7 L808.0 766.8 L810.0 766.9 L812.0 767.0 L814.0 767.1 L816.0 767.2 L818.0 767.3 L820.0 767.5 L822.0 767.6 L824.0 767.7 L826.0 767.8 L828.0 768.0 L830.0 768.1 L832.0 768.2 L834.0 768.3 L836.0 768.5 L838.0 768.6 L840.0 768.7 L842.0 768.9 L844.0 769.0 L846.0 769.1 L848.0 769.3 L850.0 769.4 L852.0 769.6 L854.0 769.7 L856.0 769.9 L858.0 770.0 L860.0 770.2 L862.0 770.3 L864.0 770.5 L866.0 770.7 L868.0 770.8 L870.0 771.0 L872.0 771.2 L874.0 771.3 L876.0 771.5 L878.0 771.7 L880.0 771.9 L882.0 772.0 L884.0 772.2 L886.0 772.4 L888.0 772.6 L890.0 772.8 L892.0 773.0 L894.0 773.2 L896.0 773.4 L898.0 773.6 L900.0 773.8 L902.0 774.0 L904.0 774.2 L906.0 774.5 L908.0 774.7 L910.0 774.9 L912.0 775.1 L914.0 775.4 L916.0 775.6 L918.0 775.9 L920.0 776.1 L922.0 776.4 L924.0 776.6 L926.0 776.9 L928.0 777.2 L930.0 777.4 L932.0 777.7 L934.0 778.0 L936.0 778.3 L938.0 778.6 L940.0 778.9 L942.0 779.2 L944.0 779.5 L946.0 779.8 L948.0 780.1 L950.0 780.5 L952.0 780.8 L954.0 781.1 L956.0 781.5 L958.0 781.9 L960.0 782.2 L962.0 782.6 L964.0 783.0 L966.0 783.4 L968.0 783.8 L970.0 784.2 L972.0 784.6 L974.0 785.0 L976.0 785.5 L978.0 785.9 L980.0 786.4 L982.0 786.8 L984.0 787.3 L986.0 787.8 L988.0 788.3 L990.0 788.8 L992.0 789.4 L994.0 789.9 L996.0 790.5 L998.0 791.0 L1000.0 791.6 L1002.0 792.2 L1004.0 792.8 L1006.0 793.5 L1008.0 794.1 L1010.0 794.8 L1012.0 795.5 L1014.0 796.2 L1016.0 796.9 L1018.0 797.7 L1020.0 798.4 L1022.0 799.2 L1024.0 800.0 L1026.0 800.9 L1028.0 801.7 L1030.0 802.6 L1032.0 803.6 L1034.0 804.5 L1036.0 805.5 L1038.0 806.5 L1040.0 807.5 L1042.0 808.6 L1044.0 809.7 L1046.0 810.9 L1048.0 812.1 L1050.0 813.3 L1052.0 814.6 L1054.0 815.9 L1056.0 817.3 L1058.0 818.7 L1060.0 820.2 L1062.0 821.7 L1064.0 823.3 L1066.0 825.0 L1068.0 826.7 L1070.0 828.4 L1072.0 830.3 L1074.0 832.2 L1076.0 834.2 L1078.0 836.2 L1080.0 838.4 L1082.0 840.6 L1084.0 842.9 L1086.0 845.3 L1088.0 847.8 L1090.0 850.4 L1092.0 853.1 L1094.0 855.9 L1096.0 858.8 L1098.0 861.8 L1100.0 865.0 L1102.0 868.2 L1104.0 871.5 L1106.0 875.0 L1108.0 878.6 L1110.0 882.2 L1112.0 886.0 L1114.0 889.9 L1116.0 893.9 L1118.0 898.0 L1120.0 902.2 L1122.0 906.5 L1124.0 910.8 L1126.0 915.2 L1128.0 919.7 L1130.0 924.1 L1132.0 928.7 L1134.0 933.2 L1136.0 937.7 L1138.0 942.2 L1140.0 946.7 L1142.0 951.1 L1144.0 955.5 L1146.0 959.9 L1148.0 964.1 L1150.0 968.3 L1152.0 972.4 L1154.0 976.4 L1156.0 980.3 L1158.0 984.1 L1160.0 987.8 L1162.0 991.3 L1164.0 994.8 L1166.0 998.1 L1168.0 1001.4 L1170.0 1004.5 L1172.0 1007.5 L1174.0 1010.4 L1176.0 1013.2 L1178.0 1015.9 L1180.0 1018.5 L1182.0 1021.0 L1184.0 1023.4 L1186.0 1025.7 L1188.0 1027.9 L1190.0 1030.0 L1192.0 1032.1 L1194.0 1034.1 L1196.0 1036.0 L1198.0 1037.8 L1200.0 1039.6 L1202.0 1041.3 L1204.0 1043.0 L1206.0 1044.5 L1208.0 1046.1 L1210.0 1047.5 L1212.0 1049.0 L1214.0 1050.3 L1216.0 1051.6 L1218.0 1052.9 L1220.0 1054.2 L1222.0 1055.4 L1224.0 1056.5 L1226.0 1057.6 L1228.0 1058.7 L1230.0 1059.8 L1232.0 1060.8 L1234.0 1061.7 L1236.0 1062.7 L1238.0 1063.6 L1240.0 1064.5 L1242.0 1065.4 L1244.0 1066.2 L1246.0 1067.0 L1248.0 1067.8 L1250.0 1068.6 L1252.0 1069.3 L1254.0 1070.1 L1256.0 1070.8 L1258.0 1071.5 L1260.0 1072.1 L1262.0 1072.8 L1264.0 1073.4 L1266.0 1074.0 L1268.0 1074.6 L1270.0 1075.2 L1272.0 1075.8 L1274.0 1076.3 L1276.0 1076.9 L1278.0 1077.4 L1280.0 1077.9 L1282.0 1078.4 L1284.0 1078.9 L1286.0 1079.4 L1288.0 1079.9 L1290.0 1080.3 L1292.0 1080.8 L1294.0 1081.2 L1296.0 1081.6 L1298.0 1082.1 L1300.0 1082.5 L1302.0 1082.9 L1304.0 1083.3 L1306.0 1083.6 L1308.0 1084.0 L1310.0 1084.4 L1312.0 1084.7 L1314.0 1085.1 L1316.0 1085.4 L1318.0 1085.8 L1320.0 1086.1 L1322.0 1086.4 L1324.0 1086.7 L1326.0 1087.0 L1328.0 1087.4 L1330.0 1087.7 L1332.0 1087.9 L1334.0 1088.2 L1336.0 1088.5 L1338.0 1088.8 L1340.0 1089.1 L1342.0 1089.3 L1344.0 1089.6 L1346.0 1089.9 L1348.0 1090.1 L1350.0 1090.4 L1352.0 1090.6 L1354.0 1090.8 L1356.0 1091.1 L1358.0 1091.3 L1360.0 1091.5 L1362.0 1091.8 L1364.0 1092.0 L1366.0 1092.2 L1368.0 1092.4 L1370.0 1092.6 L1372.0 1092.8 L1374.0 1093.0 L1376.0 1093.2 L1378.0 1093.4 L1380.0 1093.6 L1382.0 1093.8 L1384.0 1094.0 L1386.0 1094.2 L1388.0 1094.4 L1390.0 1094.5 L1392.0 1094.7 L1394.0 1094.9 L1396.0 1095.1 L1398.0 1095.2 L1400.0 1095.4 L1402.0 1095.6 L1404.0 1095.7 L1406.0 1095.9 L1408.0 1096.0 L1410.0 1096.2 L1412.0 1096.3 L1414.0 1096.5 L1416.0 1096.6 L1418.0 1096.8 L1420.0 1096.9 L1422.0 1097.1 L1424.0 1097.2 L1426.0 1097.3 L1428.0 1097.5 L1430.0 1097.6 L1432.0 1097.7 L1434.0 1097.9 L1436.0 1098.0 L1438.0 1098.1 L1440.0 1098.3 L1442.0 1098.4 L1444.0 1098.5 L1446.0 1098.6 L1448.0 1098.7 L1450.0 1098.9 L1452.0 1099.0 L1454.0 1099.1 L1456.0 1099.2 L1458.0 1099.3 L1460.0 1099.4 L1462.0 1099.5 L1464.0 1099.6 L1466.0 1099.8 L1468.0 1099.9 L1470.0 1100.0 L1472.0 1100.1 L1474.0 1100.2 L1476.0 1100.3 L1478.0 1100.4 L1480.0 1100.5 L1482.0 1100.6 L1484.0 1100.7 L1486.0 1100.8 L1488.0 1100.8 L1490.0 1100.9 L1492.0 1101.0 L1494.0 1101.1 L1496.0 1101.2 L1498.0 1101.3 L1500.0 1101.4 L1502.0 1101.5 L1504.0 1101.6 L1506.0 1101.6 L1508.0 1101.7 L1510.0 1101.8 L1512.0 1101.9 L1514.0 1102.0 L1516.0 1102.1 L1518.0 1102.1 L1520.0 1102.2 L1522.0 1102.3 L1524.0 1102.4 L1526.0 1102.4 L1528.0 1102.5 L1530.0 1102.6 L1532.0 1102.7 L1534.0 1102.7 L1536.0 1102.8 L1538.0 1102.9 L1540.0 1102.9 L1542.0 1103.0 L1544.0 1103.1 L1546.0 1103.2 L1548.0 1103.2 L1550.0 1103.3 L1552.0 1103.4 L1554.0 1103.4 L1556.0 1103.5 L1558.0 1103.6 L1560.0 1103.6 L1562.0 1103.7 L1564.0 1103.7 L1566.0 1103.8 L1568.0 1103.9 L1570.0 1103.9 L1572.0 1104.0 L1574.0 1104.0 L1576.0 1104.1 L1578.0 1104.2 L1580.0 1104.2 L1582.0 1104.3 L1584.0 1104.3 L1586.0 1104.4 L1588.0 1104.5 L1590.0 1104.5 L1592.0 1104.6 L1594.0 1104.6 L1596.0 1104.7 L1598.0 1104.7 L1600.0 1104.8 L1602.0 1104.8 L1604.0 1104.9 L1606.0 1104.9 L1608.0 1105.0 L1610.0 1105.0 L1612.0 1105.1 L1614.0 1105.1 L1616.0 1105.2 L1618.0 1105.2 L1620.0 1105.3 L1622.0 1105.3 L1624.0 1105.4 L1626.0 1105.4 L1628.0 1105.5 L1630.0 1105.5 L1632.0 1105.6 L1634.0 1105.6 L1636.0 1105.7 L1638.0 1105.7 L1640.0 1105.7 L1642.0 1105.8 L1644.0 1105.8 L1646.0 1105.9 L1648.0 1105.9 L1650.0 1106.0 L1652.0 1106.0 L1654.0 1106.0 L1656.0 1106.1 L1658.0 1106.1 L1660.0 1106.2 L1662.0 1106.2 L1664.0 1106.2 L1666.0 1106.3 L1668.0 1106.3 L1670.0 1106.4 L1672.0 1106.4 L1674.0 1106.4 L1676.0 1106.5 L1678.0 1106.5 L1680.0 1106.6 L1682.0 1106.6 L1684.0 1106.6 L1686.0 1106.7 L1688.0 1106.7 L1690.0 1106.7 L1692.0 1106.8 L1694.0 1106.8 L1696.0 1106.8 L1698.0 1106.9 L1699.8 1106.9" stroke="#0072BD"/>
<path d="M212.0 755.8 L214.0 755.8 L216.0 755.8 L218.0 755.9 L220.0 755.9 L222.0 755.9 L224.0 755.9 L226.0 755.9 L228.0 755.9 L230.0 755.9 L232.0 755.9 L234.0 756.0 L236.0 756.0 L238.0 756.0 L240.0 756.0 L242.0 756.0 L244.0 756.0 L246.0 756.0 L248.0 756.1 L250.0 756.1 L252.0 756.1 L254.0 756.1 L256.0 756.1 L258.0 756.1 L260.0 756.1 L262.0 756.2 L264.0 756.2 L266.0 756.2 L268.0 756.2 L270.0 756.2 L272.0 756.2 L274.0 756.3 L276.0 756.3 L278.0 756.3 L280.0 756.3 L282.0 756.3 L284.0 756.3 L286.0 756.3 L288.0 756.4 L290.0 756.4 L292.0 756.4 L294.0 756.4 L296.0 756.4 L298.0 756.4 L300.0 756.5 L302.0 756.5 L304.0 756.5 L306.0 756.5 L308.0 756.5 L310.0 756.5 L312.0 756.6 L314.0 756.6 L316.0 756.6 L318.0 756.6 L320.0 756.6 L322.0 756.6 L324.0 756.7 L326.0 756.7 L328.0 756.7 L330.0 756.7 L332.0 756.7 L334.0 756.7 L336.0 756.8 L338.0 756.8 L340.0 756.8 L342.0 756.8 L344.0 756.8 L346.0 756.9 L348.0 756.9 L350.0 756.9 L352.0 756.9 L354.0 756.9 L356.0 756.9 L358.0 757.0 L360.0 757.0 L362.0 757.0 L364.0 757.0 L366.0 757.0 L368.0 757.1 L370.0 757.1 L372.0 757.1 L374.0 757.1 L376.0 757.1 L378.0 757.2 L380.0 757.2 L382.0 757.2 L384.0 757.2 L386.0 757.2 L388.0 757.3 L390.0 757.3 L392.0 757.3 L394.0 757.3 L396.0 757.4 L398.0 757.4 L400.0 757.4 L402.0 757.4 L404.0 757.4 L406.0 757.5 L408.0 757.5 L410.0 757.5 L412.0 757.5 L414.0 757.5 L416.0 757.6 L418.0 757.6 L420.0 757.6 L422.0 757.6 L424.0 757.7 L426.0 757.7 L428.0 757.7 L430.0 757.7 L432.0 757.8 L434.0 757.8 L436.0 757.8 L438.0 757.8 L440.0 757.9 L442.0 757.9 L444.0 757.9 L446.0 757.9 L448.0 757.9 L450.0 758.0 L452.0 758.0 L454.0 758.0 L456.0 758.1 L458.0 758.1 L460.0 758.1 L462.0 758.1 L464.0 758.2 L466.0 758.2 L468.0 758.2 L470.0 758.2 L472.0 758.3 L474.0 758.3 L476.0 758.3 L478.0 758.3 L480.0 758.4 L482.0 758.4 L484.0 758.4 L486.0 758.5 L488.0 758.5 L490.0 758.5 L492.0 758.5 L494.0 758.6 L496.0 758.6 L498.0 758.6 L500.0 758.7 L502.0 758.7 L504.0 758.7 L506.0 758.7 L508.0 758.8 L510.0 758.8 L512.0 758.8 L514.0 758.9 L516.0 758.9 L518.0 758.9 L520.0 759.0 L522.0 759.0 L524.0 759.0 L526.0 759.1 L528.0 759.1 L530.0 759.1 L532.0 759.2 L534.0 759.2 L536.0 759.2 L538.0 759.3 L540.0 759.3 L542.0 759.3 L544.0 759.4 L546.0 759.4 L548.0 759.4 L550.0 759.5 L552.0 759.5 L554.0 759.5 L556.0 759.6 L558.0 759.6 L560.0 759.6 L562.0 759.7 L564.0 759.7 L566.0 759.7 L568.0 759.8 L570.0 759.8 L572.0 759.9 L574.0 759.9 L576.0 759.9 L578.0 760.0 L580.0 760.0 L582.0 760.1 L584.0 760.1 L586.0 760.1 L588.0 760.2 L590.0 760.2 L592.0 760.3 L594.0 760.3 L596.0 760.3 L598.0 760.4 L600.0 760.4 L602.0 760.5 L604.0 760.5 L606.0 760.6 L608.0 760.6 L610.0 760.6 L612.0 760.7 L614.0 760.7 L616.0 760.8 L618.0 760.8 L620.0 760.9 L622.0 760.9 L624.0 761.0 L626.0 761.0 L628.0 761.1 L630.0 761.1 L632.0 761.2 L634.0 761.2 L636.0 761.3 L638.0 761.3 L640.0 761.4 L642.0 761.4 L644.0 761.5 L646.0 761.5 L648.0 761.6 L650.0 761.6 L652.0 761.7 L654.0 761.7 L656.0 761.8 L658.0 761.8 L660.0 761.9 L662.0 761.9 L664.0 762.0 L666.0 762.0 L668.0 762.1 L670.0 762.2 L672.0 762.2 L674.0 762.3 L676.0 762.3 L678.0 762.4 L680.0 762.5 L682.0 762.5 L684.0 762.6 L686.0 762.6 L688.0 762.7 L690.0 762.8 L692.0 762.8 L694.0 762.9 L696.0 763.0 L698.0 763.0 L700.0 763.1 L702.0 763.1 L704.0 763.2 L706.0 763.3 L708.0 763.4 L710.0 763.4 L712.0 763.5 L714.0 763.6 L716.0 763.6 L718.0 763.7 L720.0 763.8 L722.0 763.8 L724.0 763.9 L726.0 764.0 L728.0 764.1 L730.0 764.1 L732.0 764.2 L734.0 764.3 L736.0 764.4 L738.0 764.5 L740.0 764.5 L742.0 764.6 L744.0 764.7 L746.0 764.8 L748.0 764.9 L750.0 765.0 L752.0 765.0 L754.0 765.1 L756.0 765.2 L758.0 765.3 L760.0 765.4 L762.0 765.5 L764.0 765.6 L766.0 765.7 L768.0 765.8 L770.0 765.9 L772.0 766.0 L774.0 766.1 L776.0 766.1 L778.0 766.2 L780.0 766.3 L782.0 766.4 L784.0 766.6 L786.0 766.7 L788.0 766.8 L790.0 766.9 L792.0 767.0 L794.0 767.1 L796.0 767.2 L798.0 767.3 L800.0 767.4 L802.0 767.5 L804.0 767.7 L806.0 767.8 L808.0 767.9 L810.0 768.0 L812.0 768.1 L814.0 768.3 L816.0 768.4 L818.0 768.5 L820.0 768.6 L822.0 768.8 L824.0 768.9 L826.0 769.0 L828.0 769.2 L830.0 769.3 L832.0 769.4 L834.0 769.6 L836.0 769.7 L838.0 769.9 L840.0 770.0 L842.0 770.2 L844.0 770.3 L846.0 770.5 L848.0 770.6 L850.0 770.8 L852.0 770.9 L854.0 771.1 L856.0 771.3 L858.0 771.4 L860.0 771.6 L862.0 771.8 L864.0 772.0 L866.0 772.1 L868.0 772.3 L870.0 772.5 L872.0 772.7 L874.0 772.9 L876.0 773.1 L878.0 773.3 L880.0 773.5 L882.0 773.7 L884.0 773.9 L886.0 774.1 L888.0 774.3 L890.0 774.5 L892.0 774.7 L894.0 774.9 L896.0 775.2 L898.0 775.4 L900.0 775.6 L902.0 775.9 L904.0 776.1 L906.0 776.3 L908.0 776.6 L910.0 776.9 L912.0 777.1 L914.0 777.4 L916.0 777.6 L918.0 777.9 L920.0 778.2 L922.0 778.5 L924.0 778.8 L926.0 779.1 L928.0 779.4 L930.0 779.7 L932.0 780.0 L934.0 780.3 L936.0 780.6 L938.0 781.0 L940.0 781.3 L942.0 781.6 L944.0 782.0 L946.0 782.4 L948.0 782.7 L950.0 783.1 L952.0 783.5 L954.0 783.9 L956.0 784.3 L958.0 784.7 L960.0 785.1 L962.0 785.5 L964.0 786.0 L966.0 786.4 L968.0 786.9 L970.0 787.4 L972.0 787.8 L974.0 788.3 L976.0 788.8 L978.0 789.3 L980.0 789.9 L982.0 790.4 L984.0 791.0 L986.0 791.6 L988.0 792.1 L990.0 792.7 L992.0 793.4 L994.0 794.0 L996.0 794.6 L998.0 795.3 L1000.0 796.0 L1002.0 796.7 L1004.0 797.4 L1006.0 798.2 L1008.0 798.9 L1010.0 799.7 L1012.0 800.5 L1014.0 801.4 L1016.0 802.3 L1018.0 803.1 L1020.0 804.1 L1022.0 805.0 L1024.0 806.0 L1026.0 807.0 L1028.0 808.0 L1030.0 809.1 L1032.0 810.2 L1034.0 811.4 L1036.0 812.6 L1038.0 813.8 L1040.0 815.1 L1042.0 816.4 L1044.0 817.7 L1046.0 819.1 L1048.0 820.6 L1050.0 822.1 L1052.0 823.7 L1054.0 825.3 L1056.0 827.0 L1058.0 828.8 L1060.0 830.6 L1062.0 832.5 L1064.0 834.4 L1066.0 836.4 L1068.0 838.6 L1070.0 840.8 L1072.0 843.0 L1074.0 845.4 L1076.0 847.9 L1078.0 850.4 L1080.0 853.1 L1082.0 855.8 L1084.0 858.7 L1086.0 861.6 L1088.0 864.7 L1090.0 867.8 L1092.0 871.1 L1094.0 874.5 L1096.0 878.0 L1098.0 881.6 L1100.0 885.3 L1102.0 889.1 L1104.0 893.0 L1106.0 897.1 L1108.0 901.1 L1110.0 905.3 L1112.0 909.6 L1114.0 913.9 L1116.0 918.3 L1118.0 922.7 L1120.0 927.1 L1122.0 931.6 L1124.0 936.0 L1126.0 940.5 L1128.0 944.9 L1130.0 949.3 L1132.0 953.7 L1134.0 958.0 L1136.0 962.2 L1138.0 966.4 L1140.0 970.4 L1142.0 974.4 L1144.0 978.3 L1146.0 982.1 L1148.0 985.8 L1150.0 989.4 L1152.0 992.9 L1154.0 996.2 L1156.0 999.5 L1158.0 1002.6 L1160.0 1005.7 L1162.0 1008.6 L1164.0 1011.4 L1166.0 1014.2 L1168.0 1016.8 L1170.0 1019.3 L1172.0 1021.8 L1174.0 1024.1 L1176.0 1026.4 L1178.0 1028.5 L1180.0 1030.6 L1182.0 1032.7 L1184.0 1034.6 L1186.0 1036.5 L1188.0 1038.3 L1190.0 1040.0 L1192.0 1041.7 L1194.0 1043.3 L1196.0 1044.9 L1198.0 1046.4 L1200.0 1047.8 L1202.0 1049.2 L1204.0 1050.6 L1206.0 1051.9 L1208.0 1053.1 L1210.0 1054.4 L1212.0 1055.5 L1214.0 1056.7 L1216.0 1057.8 L1218.0 1058.8 L1220.0 1059.9 L1222.0 1060.9 L1224.0 1061.9 L1226.0 1062.8 L1228.0 1063.7 L1230.0 1064.6 L1232.0 1065.5 L1234.0 1066.3 L1236.0 1067.1 L1238.0 1067.9 L1240.0 1068.6 L1242.0 1069.4 L1244.0 1070.1 L1246.0 1070.8 L1248.0 1071.5 L1250.0 1072.2 L1252.0 1072.8 L1254.0 1073.4 L1256.0 1074.0 L1258.0 1074.6 L1260.0 1075.2 L1262.0 1075.8 L1264.0 1076.4 L1266.0 1076.9 L1268.0 1077.4 L1270.0 1077.9 L1272.0 1078.4 L1274.0 1078.9 L1276.0 1079.4 L1278.0 1079.9 L1280.0 1080.3 L1282.0 1080.8 L1284.0 1081.2 L1286.0 1081.6 L1288.0 1082.1 L1290.0 1082.5 L1292.0 1082.9 L1294.0 1083.2 L1296.0 1083.6 L1298.0 1084.0 L1300.0 1084.4 L1302.0 1084.7 L1304.0 1085.1 L1306.0 1085.4 L1308.0 1085.8 L1310.0 1086.1 L1312.0 1086.4 L1314.0 1086.7 L1316.0 1087.0 L1318.0 1087.3 L1320.0 1087.6 L1322.0 1087.9 L1324.0 1088.2 L1326.0 1088.5 L1328.0 1088.8 L1330.0 1089.1 L1332.0 1089.3 L1334.0 1089.6 L1336.0 1089.9 L1338.0 1090.1 L1340.0 1090.4 L1342.0 1090.6 L1344.0 1090.8 L1346.0 1091.1 L1348.0 1091.3 L1350.0 1091.5 L1352.0 1091.8 L1354.0 1092.0 L1356.0 1092.2 L1358.0 1092.4 L1360.0 1092.6 L1362.0 1092.8 L1364.0 1093.0 L1366.0 1093.2 L1368.0 1093.4 L1370.0 1093.6 L1372.0 1093.8 L1374.0 1094.0 L1376.0 1094.2 L1378.0 1094.4 L1380.0 1094.5 L1382.0 1094.7 L1384.0 1094.9 L1386.0 1095.1 L1388.0 1095.2 L1390.0 1095.4 L1392.0 1095.6 L1394.0 1095.7 L1396.0 1095.9 L1398.0 1096.0 L1400.0 1096.2 L1402.0 1096.4 L1404.0 1096.5 L1406.0 1096.7 L1408.0 1096.8 L1410.0 1096.9 L1412.0 1097.1 L1414.0 1097.2 L1416.0 1097.4 L1418.0 1097.5 L1420.0 1097.6 L1422.0 1097.8 L1424.0 1097.9 L1426.0 1098.0 L1428.0 1098.2 L1430.0 1098.3 L1432.0 1098.4 L1434.0 1098.5 L1436.0 1098.7 L1438.0 1098.8 L1440.0 1098.9 L1442.0 1099.0 L1444.0 1099.1 L1446.0 1099.2 L1448.0 1099.3 L1450.0 1099.5 L1452.0 1099.6 L1454.0 1099.7 L1456.0 1099.8 L1458.0 1099.9 L1460.0 1100.0 L1462.0 1100.1 L1464.0 1100.2 L1466.0 1100.3 L1468.0 1100.4 L1470.0 1100.5 L1472.0 1100.6 L1474.0 1100.7 L1476.0 1100.8 L1478.0 1100.9 L1480.0 1101.0 L1482.0 1101.1 L1484.0 1101.2 L1486.0 1101.2 L1488.0 1101.3 L1490.0 1101.4 L1492.0 1101.5 L1494.0 1101.6 L1496.0 1101.7 L1498.0 1101.8 L1500.0 1101.9 L1502.0 1101.9 L1504.0 1102.0 L1506.0 1102.1 L1508.0 1102.2 L1510.0 1102.3 L1512.0 1102.3 L1514.0 1102.4 L1516.0 1102.5 L1518.0 1102.6 L1520.0 1102.6 L1522.0 1102.7 L1524.0 1102.8 L1526.0 1102.9 L1528.0 1102.9 L1530.0 1103.0 L1532.0 1103.1 L1534.0 1103.1 L1536.0 1103.2 L1538.0 1103.3 L1540.0 1103.3 L1542.0 1103.4 L1544.0 1103.5 L1546.0 1103.5 L1548.0 1103.6 L1550.0 1103.7 L1552.0 1103.7 L1554.0 1103.8 L1556.0 1103.9 L1558.0 1103.9 L1560.0 1104.0 L1562.0 1104.0 L1564.0 1104.1 L1566.0 1104.2 L1568.0 1104.2 L1570.0 1104.3 L1572.0 1104.3 L1574.0 1104.4 L1576.0 1104.5 L1578.0 1104.5 L1580.0 1104.6 L1582.0 1104.6 L1584.0 1104.7 L1586.0 1104.7 L1588.0 1104.8 L1590.0 1104.8 L1592.0 1104.9 L1594.0 1104.9 L1596.0 1105.0 L1598.0 1105.0 L1600.0 1105.1 L1602.0 1105.2 L1604.0 1105.2 L1606.0 1105.3 L1608.0 1105.3 L1610.0 1105.3 L1612.0 1105.4 L1614.0 1105.4 L1616.0 1105.5 L1618.0 1105.5 L1620.0 1105.6 L1622.0 1105.6 L1624.0 1105.7 L1626.0 1105.7 L1628.0 1105.8 L1630.0 1105.8 L1632.0 1105.9 L1634.0 1105.9 L1636.0 1105.9 L1638.0 1106.0 L1640.0 1106.0 L1642.0 1106.1 L1644.0 1106.1 L1646.0 1106.2 L1648.0 1106.2 L1650.0 1106.2 L1652.0 1106.3 L1654.0 1106.3 L1656.0 1106.4 L1658.0 1106.4 L1660.0 1106.4 L1662.0 1106.5 L1664.0 1106.5 L1666.0 1106.6 L1668.0 1106.6 L1670.0 1106.6 L1672.0 1106.7 L1674.0 1106.7 L1676.0 1106.8 L1678.0 1106.8 L1680.0 1106.8 L1682.0 1106.9 L1684.0 1106.9 L1686.0 1106.9 L1688.0 1107.0 L1690.0 1107.0 L1692.0 1107.0 L1694.0 1107.1 L1696.0 1107.1 L1698.0 1107.1 L1699.8 1107.2" stroke="#D95319"/>
<path d="M212.0 756.3 L214.0 756.3 L216.0 756.3 L218.0 756.3 L220.0 756.3 L222.0 756.3 L224.0 756.3 L226.0 756.4 L228.0 756.4 L230.0 756.4 L232.0 756.4 L234.0 756.4 L236.0 756.4 L238.0 756.4 L240.0 756.5 L242.0 756.5 L244.0 756.5 L246.0 756.5 L248.0 756.5 L250.0 756.5 L252.0 756.5 L254.0 756.6 L256.0 756.6 L258.0 756.6 L260.0 756.6 L262.0 756.6 L264.0 756.6 L266.0 756.6 L268.0 756.7 L270.0 756.7 L272.0 756.7 L274.0 756.7 L276.0 756.7 L278.0 756.7 L280.0 756.8 L282.0 756.8 L284.0 756.8 L286.0 756.8 L288.0 756.8 L290.0 756.8 L292.0 756.9 L294.0 756.9 L296.0 756.9 L298.0 756.9 L300.0 756.9 L302.0 756.9 L304.0 757.0 L306.0 757.0 L308.0 757.0 L310.0 757.0 L312.0 757.0 L314.0 757.1 L316.0 757.1 L318.0 757.1 L320.0 757.1 L322.0 757.1 L324.0 757.1 L326.0 757.2 L328.0 757.2 L330.0 757.2 L332.0 757.2 L334.0 757.2 L336.0 757.3 L338.0 757.3 L340.0 757.3 L342.0 757.3 L344.0 757.3 L346.0 757.4 L348.0 757.4 L350.0 757.4 L352.0 757.4 L354.0 757.4 L356.0 757.5 L358.0 757.5 L360.0 757.5 L362.0 757.5 L364.0 757.5 L366.0 757.6 L368.0 757.6 L370.0 757.6 L372.0 757.6 L374.0 757.7 L376.0 757.7 L378.0 757.7 L380.0 757.7 L382.0 757.7 L384.0 757.8 L386.0 757.8 L388.0 757.8 L390.0 757.8 L392.0 757.9 L394.0 757.9 L396.0 757.9 L398.0 757.9 L400.0 758.0 L402.0 758.0 L404.0 758.0 L406.0 758.0 L408.0 758.0 L410.0 758.1 L412.0 758.1 L414.0 758.1 L416.0 758.1 L418.0 758.2 L420.0 758.2 L422.0 758.2 L424.0 758.3 L426.0 758.3 L428.0 758.3 L430.0 758.3 L432.0 758.4 L434.0 758.4 L436.0 758.4 L438.0 758.4 L440.0 758.5 L442.0 758.5 L444.0 758.5 L446.0 758.5 L448.0 758.6 L450.0 758.6 L452.0 758.6 L454.0 758.7 L456.0 758.7 L458.0 758.7 L460.0 758.7 L462.0 758.8 L464.0 758.8 L466.0 758.8 L468.0 758.9 L470.0 758.9 L472.0 758.9 L474.0 759.0 L476.0 759.0 L478.0 759.0 L480.0 759.1 L482.0 759.1 L484.0 759.1 L486.0 759.2 L488.0 759.2 L490.0 759.2 L492.0 759.2 L494.0 759.3 L496.0 759.3 L498.0 759.4 L500.0 759.4 L502.0 759.4 L504.0 759.5 L506.0 759.5 L508.0 759.5 L510.0 759.6 L512.0 759.6 L514.0 759.6 L516.0 759.7 L518.0 759.7 L520.0 759.7 L522.0 759.8 L524.0 759.8 L526.0 759.9 L528.0 759.9 L530.0 759.9 L532.0 760.0 L534.0 760.0 L536.0 760.0 L538.0 760.1 L540.0 760.1 L542.0 760.2 L544.0 760.2 L546.0 760.2 L548.0 760.3 L550.0 760.3 L552.0 760.4 L554.0 760.4 L556.0 760.5 L558.0 760.5 L560.0 760.5 L562.0 760.6 L564.0 760.6 L566.0 760.7 L568.0 760.7 L570.0 760.8 L572.0 760.8 L574.0 760.9 L576.0 760.9 L578.0 760.9 L580.0 761.0 L582.0 761.0 L584.0 761.1 L586.0 761.1 L588.0 761.2 L590.0 761.2 L592.0 761.3 L594.0 761.3 L596.0 761.4 L598.0 761.4 L600.0 761.5 L602.0 761.5 L604.0 761.6 L606.0 761.6 L608.0 761.7 L610.0 761.7 L612.0 761.8 L614.0 761.9 L616.0 761.9 L618.0 762.0 L620.0 762.0 L622.0 762.1 L624.0 762.1 L626.0 762.2 L628.0 762.3 L630.0 762.3 L632.0 762.4 L634.0 762.4 L636.0 762.5 L638.0 762.5 L640.0 762.6 L642.0 762.7 L644.0 762.7 L646.0 762.8 L648.0 762.9 L650.0 762.9 L652.0 763.0 L654.0 763.1 L656.0 763.1 L658.0 763.2 L660.0 763.3 L662.0 763.3 L664.0 763.4 L666.0 763.5 L668.0 763.5 L670.0 763.6 L672.0 763.7 L674.0 763.8 L676.0 763.8 L678.0 763.9 L680.0 764.0 L682.0 764.0 L684.0 764.1 L686.0 764.2 L688.0 764.3 L690.0 764.4 L692.0 764.4 L694.0 764.5 L696.0 764.6 L698.0 764.7 L700.0 764.8 L702.0 764.9 L704.0 764.9 L706.0 765.0 L708.0 765.1 L710.0 765.2 L712.0 765.3 L714.0 765.4 L716.0 765.5 L718.0 765.6 L720.0 765.6 L722.0 765.7 L724.0 765.8 L726.0 765.9 L728.0 766.0 L730.0 766.1 L732.0 766.2 L734.0 766.3 L736.0 766.4 L738.0 766.5 L740.0 766.6 L742.0 766.7 L744.0 766.9 L746.0 767.0 L748.0 767.1 L750.0 767.2 L752.0 767.3 L754.0 767.4 L756.0 767.5 L758.0 767.6 L760.0 767.8 L762.0 767.9 L764.0 768.0 L766.0 768.1 L768.0 768.2 L770.0 768.4 L772.0 768.5 L774.0 768.6 L776.0 768.8 L778.0 768.9 L780.0 769.0 L782.0 769.2 L784.0 769.3 L786.0 769.4 L788.0 769.6 L790.0 769.7 L792.0 769.9 L794.0 770.0 L796.0 770.2 L798.0 770.3 L800.0 770.5 L802.0 770.6 L804.0 770.8 L806.0 770.9 L808.0 771.1 L810.0 771.3 L812.0 771.4 L814.0 771.6 L816.0 771.8 L818.0 772.0 L820.0 772.1 L822.0 772.3 L824.0 772.5 L826.0 772.7 L828.0 772.9 L830.0 773.1 L832.0 773.3 L834.0 773.5 L836.0 773.7 L838.0 773.9 L840.0 774.1 L842.0 774.3 L844.0 774.5 L846.0 774.7 L848.0 775.0 L850.0 775.2 L852.0 775.4 L854.0 775.6 L856.0 775.9 L858.0 776.1 L860.0 776.4 L862.0 776.6 L864.0 776.9 L866.0 777.1 L868.0 777.4 L870.0 777.7 L872.0 778.0 L874.0 778.2 L876.0 778.5 L878.0 778.8 L880.0 779.1 L882.0 779.4 L884.0 779.7 L886.0 780.0 L888.0 780.4 L890.0 780.7 L892.0 781.0 L894.0 781.4 L896.0 781.7 L898.0 782.1 L900.0 782.4 L902.0 782.8 L904.0 783.2 L906.0 783.6 L908.0 783.9 L910.0 784.4 L912.0 784.8 L914.0 785.2 L916.0 785.6 L918.0 786.1 L920.0 786.5 L922.0 787.0 L924.0 787.4 L926.0 787.9 L928.0 788.4 L930.0 788.9 L932.0 789.4 L934.0 790.0 L936.0 790.5 L938.0 791.1 L940.0 791.7 L942.0 792.3 L944.0 792.9 L946.0 793.5 L948.0 794.1 L950.0 794.8 L952.0 795.4 L954.0 796.1 L956.0 796.8 L958.0 797.6 L960.0 798.3 L962.0 799.1 L964.0 799.9 L966.0 800.7 L968.0 801.6 L970.0 802.4 L972.0 803.3 L974.0 804.3 L976.0 805.2 L978.0 806.2 L980.0 807.2 L982.0 808.3 L984.0 809.4 L986.0 810.5 L988.0 811.6 L990.0 812.8 L992.0 814.1 L994.0 815.4 L996.0 816.7 L998.0 818.1 L1000.0 819.5 L1002.0 821.0 L1004.0 822.5 L1006.0 824.1 L1008.0 825.7 L1010.0 827.4 L1012.0 829.2 L1014.0 831.0 L1016.0 832.9 L1018.0 834.9 L1020.0 837.0 L1022.0 839.1 L1024.0 841.3 L1026.0 843.6 L1028.0 846.0 L1030.0 848.5 L1032.0 851.1 L1034.0 853.7 L1036.0 856.5 L1038.0 859.4 L1040.0 862.4 L1042.0 865.5 L1044.0 868.7 L1046.0 872.0 L1048.0 875.4 L1050.0 878.9 L1052.0 882.6 L1054.0 886.3 L1056.0 890.1 L1058.0 894.1 L1060.0 898.1 L1062.0 902.2 L1064.0 906.5 L1066.0 910.7 L1068.0 915.1 L1070.0 919.4 L1072.0 923.9 L1074.0 928.3 L1076.0 932.8 L1078.0 937.2 L1080.0 941.7 L1082.0 946.1 L1084.0 950.5 L1086.0 954.9 L1088.0 959.2 L1090.0 963.4 L1092.0 967.5 L1094.0 971.6 L1096.0 975.6 L1098.0 979.4 L1100.0 983.2 L1102.0 986.9 L1104.0 990.4 L1106.0 993.9 L1108.0 997.2 L1110.0 1000.4 L1112.0 1003.5 L1114.0 1006.6 L1116.0 1009.5 L1118.0 1012.3 L1120.0 1015.0 L1122.0 1017.6 L1124.0 1020.1 L1126.0 1022.5 L1128.0 1024.8 L1130.0 1027.0 L1132.0 1029.2 L1134.0 1031.3 L1136.0 1033.3 L1138.0 1035.2 L1140.0 1037.0 L1142.0 1038.8 L1144.0 1040.6 L1146.0 1042.2 L1148.0 1043.8 L1150.0 1045.4 L1152.0 1046.8 L1154.0 1048.3 L1156.0 1049.7 L1158.0 1051.0 L1160.0 1052.3 L1162.0 1053.5 L1164.0 1054.8 L1166.0 1055.9 L1168.0 1057.0 L1170.0 1058.1 L1172.0 1059.2 L1174.0 1060.2 L1176.0 1061.2 L1178.0 1062.2 L1180.0 1063.1 L1182.0 1064.0 L1184.0 1064.9 L1186.0 1065.8 L1188.0 1066.6 L1190.0 1067.4 L1192.0 1068.2 L1194.0 1068.9 L1196.0 1069.7 L1198.0 1070.4 L1200.0 1071.1 L1202.0 1071.7 L1204.0 1072.4 L1206.0 1073.1 L1208.0 1073.7 L1210.0 1074.3 L1212.0 1074.9 L1214.0 1075.5 L1216.0 1076.0 L1218.0 1076.6 L1220.0 1077.1 L1222.0 1077.6 L1224.0 1078.1 L1226.0 1078.6 L1228.0 1079.1 L1230.0 1079.6 L1232.0 1080.1 L1234.0 1080.5 L1236.0 1081.0 L1238.0 1081.4 L1240.0 1081.8 L1242.0 1082.2 L1244.0 1082.6 L1246.0 1083.0 L1248.0 1083.4 L1250.0 1083.8 L1252.0 1084.2 L1254.0 1084.5 L1256.0 1084.9 L1258.0 1085.3 L1260.0 1085.6 L1262.0 1085.9 L1264.0 1086.3 L1266.0 1086.6 L1268.0 1086.9 L1270.0 1087.2 L1272.0 1087.5 L1274.0 1087.8 L1276.0 1088.1 L1278.0 1088.4 L1280.0 1088.7 L1282.0 1089.0 L1284.0 1089.2 L1286.0 1089.5 L1288.0 1089.8 L1290.0 1090.0 L1292.0 1090.3 L1294.0 1090.5 L1296.0 1090.8 L1298.0 1091.0 L1300.0 1091.2 L1302.0 1091.5 L1304.0 1091.7 L1306.0 1091.9 L1308.0 1092.1 L1310.0 1092.4 L1312.0 1092.6 L1314.0 1092.8 L1316.0 1093.0 L1318.0 1093.2 L1320.0 1093.4 L1322.0 1093.6 L1324.0 1093.8 L1326.0 1094.0 L1328.0 1094.2 L1330.0 1094.3 L1332.0 1094.5 L1334.0 1094.7 L1336.0 1094.9 L1338.0 1095.1 L1340.0 1095.2 L1342.0 1095.4 L1344.0 1095.6 L1346.0 1095.7 L1348.0 1095.9 L1350.0 1096.1 L1352.0 1096.2 L1354.0 1096.4 L1356.0 1096.5 L1358.0 1096.7 L1360.0 1096.8 L1362.0 1097.0 L1364.0 1097.1 L1366.0 1097.2 L1368.0 1097.4 L1370.0 1097.5 L1372.0 1097.7 L1374.0 1097.8 L1376.0 1097.9 L1378.0 1098.1 L1380.0 1098.2 L1382.0 1098.3 L1384.0 1098.4 L1386.0 1098.6 L1388.0 1098.7 L1390.0 1098.8 L1392.0 1098.9 L1394.0 1099.1 L1396.0 1099.2 L1398.0 1099.3 L1400.0 1099.4 L1402.0 1099.5 L1404.0 1099.6 L1406.0 1099.7 L1408.0 1099.9 L1410.0 1100.0 L1412.0 1100.1 L1414.0 1100.2 L1416.0 1100.3 L1418.0 1100.4 L1420.0 1100.5 L1422.0 1100.6 L1424.0 1100.7 L1426.0 1100.8 L1428.0 1100.9 L1430.0 1101.0 L1432.0 1101.1 L1434.0 1101.2 L1436.0 1101.3 L1438.0 1101.3 L1440.0 1101.4 L1442.0 1101.5 L1444.0 1101.6 L1446.0 1101.7 L1448.0 1101.8 L1450.0 1101.9 L1452.0 1102.0 L1454.0 1102.0 L1456.0 1102.1 L1458.0 1102.2 L1460.0 1102.3 L1462.0 1102.4 L1464.0 1102.4 L1466.0 1102.5 L1468.0 1102.6 L1470.0 1102.7 L1472.0 1102.8 L1474.0 1102.8 L1476.0 1102.9 L1478.0 1103.0 L1480.0 1103.1 L1482.0 1103.1 L1484.0 1103.2 L1486.0 1103.3 L1488.0 1103.3 L1490.0 1103.4 L1492.0 1103.5 L1494.0 1103.5 L1496.0 1103.6 L1498.0 1103.7 L1500.0 1103.8 L1502.0 1103.8 L1504.0 1103.9 L1506.0 1103.9 L1508.0 1104.0 L1510.0 1104.1 L1512.0 1104.1 L1514.0 1104.2 L1516.0 1104.3 L1518.0 1104.3 L1520.0 1104.4 L1522.0 1104.4 L1524.0 1104.5 L1526.0 1104.6 L1528.0 1104.6 L1530.0 1104.7 L1532.0 1104.7 L1534.0 1104.8 L1536.0 1104.8 L1538.0 1104.9 L1540.0 1105.0 L1542.0 1105.0 L1544.0 1105.1 L1546.0 1105.1 L1548.0 1105.2 L1550.0 1105.2 L1552.0 1105.3 L1554.0 1105.3 L1556.0 1105.4 L1558.0 1105.4 L1560.0 1105.5 L1562.0 1105.5 L1564.0 1105.6 L1566.0 1105.6 L1568.0 1105.7 L1570.0 1105.7 L1572.0 1105.8 L1574.0 1105.8 L1576.0 1105.9 L1578.0 1105.9 L1580.0 1106.0 L1582.0 1106.0 L1584.0 1106.1 L1586.0 1106.1 L1588.0 1106.2 L1590.0 1106.2 L1592.0 1106.2 L1594.0 1106.3 L1596.0 1106.3 L1598.0 1106.4 L1600.0 1106.4 L1602.0 1106.5 L1604.0 1106.5 L1606.0 1106.5 L1608.0 1106.6 L1610.0 1106.6 L1612.0 1106.7 L1614.0 1106.7 L1616.0 1106.7 L1618.0 1106.8 L1620.0 1106.8 L1622.0 1106.9 L1624.0 1106.9 L1626.0 1106.9 L1628.0 1107.0 L1630.0 1107.0 L1632.0 1107.1 L1634.0 1107.1 L1636.0 1107.1 L1638.0 1107.2 L1640.0 1107.2 L1642.0 1107.2 L1644.0 1107.3 L1646.0 1107.3 L1648.0 1107.4 L1650.0 1107.4 L1652.0 1107.4 L1654.0 1107.5 L1656.0 1107.5 L1658.0 1107.5 L1660.0 1107.6 L1662.0 1107.6 L1664.0 1107.6 L1666.0 1107.7 L1668.0 1107.7 L1670.0 1107.7 L1672.0 1107.8 L1674.0 1107.8 L1676.0 1107.8 L1678.0 1107.9 L1680.0 1107.9 L1682.0 1107.9 L1684.0 1108.0 L1686.0 1108.0 L1688.0 1108.0 L1690.0 1108.0 L1692.0 1108.1 L1694.0 1108.1 L1696.0 1108.1 L1698.0 1108.2 L1699.8 1108.2" stroke="#EDB120"/>
<path d="M212.0 758.9 L214.0 758.9 L216.0 758.9 L218.0 759.0 L220.0 759.0 L222.0 759.0 L224.0 759.0 L226.0 759.1 L228.0 759.1 L230.0 759.1 L232.0 759.2 L234.0 759.2 L236.0 759.2 L238.0 759.2 L240.0 759.3 L242.0 759.3 L244.0 759.3 L246.0 759.3 L248.0 759.4 L250.0 759.4 L252.0 759.4 L254.0 759.5 L256.0 759.5 L258.0 759.5 L260.0 759.5 L262.0 759.6 L264.0 759.6 L266.0 759.6 L268.0 759.7 L270.0 759.7 L272.0 759.7 L274.0 759.8 L276.0 759.8 L278.0 759.8 L280.0 759.9 L282.0 759.9 L284.0 759.9 L286.0 759.9 L288.0 760.0 L290.0 760.0 L292.0 760.0 L294.0 760.1 L296.0 760.1 L298.0 760.1 L300.0 760.2 L302.0 760.2 L304.0 760.2 L306.0 760.3 L308.0 760.3 L310.0 760.3 L312.0 760.4 L314.0 760.4 L316.0 760.5 L318.0 760.5 L320.0 760.5 L322.0 760.6 L324.0 760.6 L326.0 760.6 L328.0 760.7 L330.0 760.7 L332.0 760.7 L334.0 760.8 L336.0 760.8 L338.0 760.9 L340.0 760.9 L342.0 760.9 L344.0 761.0 L346.0 761.0 L348.0 761.1 L350.0 761.1 L352.0 761.1 L354.0 761.2 L356.0 761.2 L358.0 761.3 L360.0 761.3 L362.0 761.3 L364.0 761.4 L366.0 761.4 L368.0 761.5 L370.0 761.5 L372.0 761.6 L374.0 761.6 L376.0 761.6 L378.0 761.7 L380.0 761.7 L382.0 761.8 L384.0 761.8 L386.0 761.9 L388.0 761.9 L390.0 762.0 L392.0 762.0 L394.0 762.0 L396.0 762.1 L398.0 762.1 L400.0 762.2 L402.0 762.2 L404.0 762.3 L406.0 762.3 L408.0 762.4 L410.0 762.4 L412.0 762.5 L414.0 762.5 L416.0 762.6 L418.0 762.6 L420.0 762.7 L422.0 762.8 L424.0 762.8 L426.0 762.9 L428.0 762.9 L430.0 763.0 L432.0 763.0 L434.0 763.1 L436.0 763.1 L438.0 763.2 L440.0 763.3 L442.0 763.3 L444.0 763.4 L446.0 763.4 L448.0 763.5 L450.0 763.5 L452.0 763.6 L454.0 763.7 L456.0 763.7 L458.0 763.8 L460.0 763.9 L462.0 763.9 L464.0 764.0 L466.0 764.0 L468.0 764.1 L470.0 764.2 L472.0 764.2 L474.0 764.3 L476.0 764.4 L478.0 764.4 L480.0 764.5 L482.0 764.6 L484.0 764.7 L486.0 764.7 L488.0 764.8 L490.0 764.9 L492.0 764.9 L494.0 765.0 L496.0 765.1 L498.0 765.2 L500.0 765.2 L502.0 765.3 L504.0 765.4 L506.0 765.5 L508.0 765.5 L510.0 765.6 L512.0 765.7 L514.0 765.8 L516.0 765.9 L518.0 766.0 L520.0 766.0 L522.0 766.1 L524.0 766.2 L526.0 766.3 L528.0 766.4 L530.0 766.5 L532.0 766.6 L534.0 766.7 L536.0 766.7 L538.0 766.8 L540.0 766.9 L542.0 767.0 L544.0 767.1 L546.0 767.2 L548.0 767.3 L550.0 767.4 L552.0 767.5 L554.0 767.6 L556.0 767.7 L558.0 767.8 L560.0 767.9 L562.0 768.0 L564.0 768.1 L566.0 768.3 L568.0 768.4 L570.0 768.5 L572.0 768.6 L574.0 768.7 L576.0 768.8 L578.0 768.9 L580.0 769.0 L582.0 769.2 L584.0 769.3 L586.0 769.4 L588.0 769.5 L590.0 769.7 L592.0 769.8 L594.0 769.9 L596.0 770.0 L598.0 770.2 L600.0 770.3 L602.0 770.5 L604.0 770.6 L606.0 770.7 L608.0 770.9 L610.0 771.0 L612.0 771.2 L614.0 771.3 L616.0 771.5 L618.0 771.6 L620.0 771.8 L622.0 771.9 L624.0 772.1 L626.0 772.2 L628.0 772.4 L630.0 772.6 L632.0 772.7 L634.0 772.9 L636.0 773.1 L638.0 773.2 L640.0 773.4 L642.0 773.6 L644.0 773.8 L646.0 774.0 L648.0 774.2 L650.0 774.4 L652.0 774.6 L654.0 774.7 L656.0 775.0 L658.0 775.2 L660.0 775.4 L662.0 775.6 L664.0 775.8 L666.0 776.0 L668.0 776.2 L670.0 776.5 L672.0 776.7 L674.0 776.9 L676.0 777.2 L678.0 777.4 L680.0 777.6 L682.0 777.9 L684.0 778.1 L686.0 778.4 L688.0 778.7 L690.0 778.9 L692.0 779.2 L694.0 779.5 L696.0 779.8 L698.0 780.1 L700.0 780.3 L702.0 780.6 L704.0 781.0 L706.0 781.3 L708.0 781.6 L710.0 781.9 L712.0 782.2 L714.0 782.6 L716.0 782.9 L718.0 783.3 L720.0 783.6 L722.0 784.0 L724.0 784.4 L726.0 784.8 L728.0 785.1 L730.0 785.5 L732.0 785.9 L734.0 786.4 L736.0 786.8 L738.0 787.2 L740.0 787.7 L742.0 788.1 L744.0 788.6 L746.0 789.1 L748.0 789.6 L750.0 790.1 L752.0 790.6 L754.0 791.1 L756.0 791.6 L758.0 792.2 L760.0 792.8 L762.0 793.3 L764.0 793.9 L766.0 794.6 L768.0 795.2 L770.0 795.8 L772.0 796.5 L774.0 797.2 L776.0 797.9 L778.0 798.6 L780.0 799.3 L782.0 800.1 L784.0 800.9 L786.0 801.7 L788.0 802.5 L790.0 803.4 L792.0 804.3 L794.0 805.2 L796.0 806.1 L798.0 807.1 L800.0 808.1 L802.0 809.1 L804.0 810.2 L806.0 811.3 L808.0 812.4 L810.0 813.6 L812.0 814.8 L814.0 816.1 L816.0 817.4 L818.0 818.7 L820.0 820.1 L822.0 821.6 L824.0 823.1 L826.0 824.6 L828.0 826.2 L830.0 827.9 L832.0 829.6 L834.0 831.4 L836.0 833.3 L838.0 835.3 L840.0 837.3 L842.0 839.4 L844.0 841.5 L846.0 843.8 L848.0 846.1 L850.0 848.6 L852.0 851.1 L854.0 853.7 L856.0 856.5 L858.0 859.3 L860.0 862.2 L862.0 865.3 L864.0 868.4 L866.0 871.7 L868.0 875.1 L870.0 878.5 L872.0 882.1 L874.0 885.8 L876.0 889.6 L878.0 893.5 L880.0 897.5 L882.0 901.6 L884.0 905.8 L886.0 910.1 L888.0 914.4 L890.0 918.7 L892.0 923.2 L894.0 927.6 L896.0 932.1 L898.0 936.6 L900.0 941.0 L902.0 945.5 L904.0 949.9 L906.0 954.3 L908.0 958.6 L910.0 962.9 L912.0 967.1 L914.0 971.2 L916.0 975.2 L918.0 979.1 L920.0 982.9 L922.0 986.7 L924.0 990.3 L926.0 993.8 L928.0 997.2 L930.0 1000.5 L932.0 1003.6 L934.0 1006.7 L936.0 1009.6 L938.0 1012.5 L940.0 1015.2 L942.0 1017.9 L944.0 1020.4 L946.0 1022.9 L948.0 1025.2 L950.0 1027.5 L952.0 1029.7 L954.0 1031.8 L956.0 1033.8 L958.0 1035.8 L960.0 1037.7 L962.0 1039.5 L964.0 1041.2 L966.0 1042.9 L968.0 1044.6 L970.0 1046.1 L972.0 1047.6 L974.0 1049.1 L976.0 1050.5 L978.0 1051.9 L980.0 1053.2 L982.0 1054.4 L984.0 1055.7 L986.0 1056.8 L988.0 1058.0 L990.0 1059.1 L992.0 1060.2 L994.0 1061.2 L996.0 1062.2 L998.0 1063.2 L1000.0 1064.1 L1002.0 1065.0 L1004.0 1065.9 L1006.0 1066.8 L1008.0 1067.6 L1010.0 1068.4 L1012.0 1069.2 L1014.0 1070.0 L1016.0 1070.7 L1018.0 1071.5 L1020.0 1072.2 L1022.0 1072.8 L1024.0 1073.5 L1026.0 1074.2 L1028.0 1074.8 L1030.0 1075.4 L1032.0 1076.0 L1034.0 1076.6 L1036.0 1077.2 L1038.0 1077.7 L1040.0 1078.3 L1042.0 1078.8 L1044.0 1079.3 L1046.0 1079.8 L1048.0 1080.3 L1050.0 1080.8 L1052.0 1081.2 L1054.0 1081.7 L1056.0 1082.1 L1058.0 1082.6 L1060.0 1083.0 L1062.0 1083.4 L1064.0 1083.8 L1066.0 1084.2 L1068.0 1084.6 L1070.0 1085.0 L1072.0 1085.4 L1074.0 1085.8 L1076.0 1086.1 L1078.0 1086.5 L1080.0 1086.8 L1082.0 1087.2 L1084.0 1087.5 L1086.0 1087.8 L1088.0 1088.1 L1090.0 1088.4 L1092.0 1088.7 L1094.0 1089.0 L1096.0 1089.3 L1098.0 1089.6 L1100.0 1089.9 L1102.0 1090.2 L1104.0 1090.5 L1106.0 1090.7 L1108.0 1091.0 L1110.0 1091.3 L1112.0 1091.5 L1114.0 1091.8 L1116.0 1092.0 L1118.0 1092.3 L1120.0 1092.5 L1122.0 1092.7 L1124.0 1093.0 L1126.0 1093.2 L1128.0 1093.4 L1130.0 1093.6 L1132.0 1093.8 L1134.0 1094.0 L1136.0 1094.3 L1138.0 1094.5 L1140.0 1094.7 L1142.0 1094.9 L1144.0 1095.0 L1146.0 1095.2 L1148.0 1095.4 L1150.0 1095.6 L1152.0 1095.8 L1154.0 1096.0 L1156.0 1096.2 L1158.0 1096.3 L1160.0 1096.5 L1162.0 1096.7 L1164.0 1096.8 L1166.0 1097.0 L1168.0 1097.2 L1170.0 1097.3 L1172.0 1097.5 L1174.0 1097.6 L1176.0 1097.8 L1178.0 1098.0 L1180.0 1098.1 L1182.0 1098.2 L1184.0 1098.4 L1186.0 1098.5 L1188.0 1098.7 L1190.0 1098.8 L1192.0 1099.0 L1194.0 1099.1 L1196.0 1099.2 L1198.0 1099.4 L1200.0 1099.5 L1202.0 1099.6 L1204.0 1099.7 L1206.0 1099.9 L1208.0 1100.0 L1210.0 1100.1 L1212.0 1100.2 L1214.0 1100.4 L1216.0 1100.5 L1218.0 1100.6 L1220.0 1100.7 L1222.0 1100.8 L1224.0 1100.9 L1226.0 1101.0 L1228.0 1101.2 L1230.0 1101.3 L1232.0 1101.4 L1234.0 1101.5 L1236.0 1101.6 L1238.0 1101.7 L1240.0 1101.8 L1242.0 1101.9 L1244.0 1102.0 L1246.0 1102.1 L1248.0 1102.2 L1250.0 1102.3 L1252.0 1102.4 L1254.0 1102.5 L1256.0 1102.6 L1258.0 1102.7 L1260.0 1102.7 L1262.0 1102.8 L1264.0 1102.9 L1266.0 1103.0 L1268.0 1103.1 L1270.0 1103.2 L1272.0 1103.3 L1274.0 1103.4 L1276.0 1103.4 L1278.0 1103.5 L1280.0 1103.6 L1282.0 1103.7 L1284.0 1103.8 L1286.0 1103.8 L1288.0 1103.9 L1290.0 1104.0 L1292.0 1104.1 L1294.0 1104.2 L1296.0 1104.2 L1298.0 1104.3 L1300.0 1104.4 L1302.0 1104.5 L1304.0 1104.5 L1306.0 1104.6 L1308.0 1104.7 L1310.0 1104.7 L1312.0 1104.8 L1314.0 1104.9 L1316.0 1104.9 L1318.0 1105.0 L1320.0 1105.1 L1322.0 1105.1 L1324.0 1105.2 L1326.0 1105.3 L1328.0 1105.3 L1330.0 1105.4 L1332.0 1105.5 L1334.0 1105.5 L1336.0 1105.6 L1338.0 1105.7 L1340.0 1105.7 L1342.0 1105.8 L1344.0 1105.8 L1346.0 1105.9 L1348.0 1106.0 L1350.0 1106.0 L1352.0 1106.1 L1354.0 1106.1 L1356.0 1106.2 L1358.0 1106.2 L1360.0 1106.3 L1362.0 1106.4 L1364.0 1106.4 L1366.0 1106.5 L1368.0 1106.5 L1370.0 1106.6 L1372.0 1106.6 L1374.0 1106.7 L1376.0 1106.7 L1378.0 1106.8 L1380.0 1106.8 L1382.0 1106.9 L1384.0 1106.9 L1386.0 1107.0 L1388.0 1107.0 L1390.0 1107.1 L1392.0 1107.1 L1394.0 1107.2 L1396.0 1107.2 L1398.0 1107.3 L1400.0 1107.3 L1402.0 1107.4 L1404.0 1107.4 L1406.0 1107.5 L1408.0 1107.5 L1410.0 1107.5 L1412.0 1107.6 L1414.0 1107.6 L1416.0 1107.7 L1418.0 1107.7 L1420.0 1107.8 L1422.0 1107.8 L1424.0 1107.9 L1426.0 1107.9 L1428.0 1107.9 L1430.0 1108.0 L1432.0 1108.0 L1434.0 1108.1 L1436.0 1108.1 L1438.0 1108.1 L1440.0 1108.2 L1442.0 1108.2 L1444.0 1108.3 L1446.0 1108.3 L1448.0 1108.3 L1450.0 1108.4 L1452.0 1108.4 L1454.0 1108.5 L1456.0 1108.5 L1458.0 1108.5 L1460.0 1108.6 L1462.0 1108.6 L1464.0 1108.6 L1466.0 1108.7 L1468.0 1108.7 L1470.0 1108.8 L1472.0 1108.8 L1474.0 1108.8 L1476.0 1108.9 L1478.0 1108.9 L1480.0 1108.9 L1482.0 1109.0 L1484.0 1109.0 L1486.0 1109.0 L1488.0 1109.1 L1490.0 1109.1 L1492.0 1109.1 L1494.0 1109.2 L1496.0 1109.2 L1498.0 1109.2 L1500.0 1109.3 L1502.0 1109.3 L1504.0 1109.3 L1506.0 1109.4 L1508.0 1109.4 L1510.0 1109.4 L1512.0 1109.4 L1514.0 1109.5 L1516.0 1109.5 L1518.0 1109.5 L1520.0 1109.6 L1522.0 1109.6 L1524.0 1109.6 L1526.0 1109.7 L1528.0 1109.7 L1530.0 1109.7 L1532.0 1109.7 L1534.0 1109.8 L1536.0 1109.8 L1538.0 1109.8 L1540.0 1109.9 L1542.0 1109.9 L1544.0 1109.9 L1546.0 1109.9 L1548.0 1110.0 L1550.0 1110.0 L1552.0 1110.0 L1554.0 1110.1 L1556.0 1110.1 L1558.0 1110.1 L1560.0 1110.1 L1562.0 1110.2 L1564.0 1110.2 L1566.0 1110.2 L1568.0 1110.2 L1570.0 1110.3 L1572.0 1110.3 L1574.0 1110.3 L1576.0 1110.3 L1578.0 1110.4 L1580.0 1110.4 L1582.0 1110.4 L1584.0 1110.4 L1586.0 1110.5 L1588.0 1110.5 L1590.0 1110.5 L1592.0 1110.5 L1594.0 1110.6 L1596.0 1110.6 L1598.0 1110.6 L1600.0 1110.6 L1602.0 1110.6 L1604.0 1110.7 L1606.0 1110.7 L1608.0 1110.7 L1610.0 1110.7 L1612.0 1110.8 L1614.0 1110.8 L1616.0 1110.8 L1618.0 1110.8 L1620.0 1110.8 L1622.0 1110.9 L1624.0 1110.9 L1626.0 1110.9 L1628.0 1110.9 L1630.0 1111.0 L1632.0 1111.0 L1634.0 1111.0 L1636.0 1111.0 L1638.0 1111.0 L1640.0 1111.1 L1642.0 1111.1 L1644.0 1111.1 L1646.0 1111.1 L1648.0 1111.1 L1650.0 1111.2 L1652.0 1111.2 L1654.0 1111.2 L1656.0 1111.2 L1658.0 1111.2 L1660.0 1111.3 L1662.0 1111.3 L1664.0 1111.3 L1666.0 1111.3 L1668.0 1111.3 L1670.0 1111.4 L1672.0 1111.4 L1674.0 1111.4 L1676.0 1111.4 L1678.0 1111.4 L1680.0 1111.4 L1682.0 1111.5 L1684.0 1111.5 L1686.0 1111.5 L1688.0 1111.5 L1690.0 1111.5 L1692.0 1111.6 L1694.0 1111.6 L1696.0 1111.6 L1698.0 1111.6 L1699.8 1111.6" stroke="#7E2F8E"/>
</g>
<g id="ticks" fill="#262626" font-size="64.0">
<text transform="translate(219.9 631.4) scale(1 1.014)" text-anchor="middle">1500</text>
<text transform="translate(714.8 631.4) scale(1 1.014)" text-anchor="middle">2000</text>
<text transform="translate(1213.2 631.4) scale(1 1.014)" text-anchor="middle">2500</text>
<text transform="translate(1707.2 631.4) scale(1 1.014)" text-anchor="middle">3000</text>
<text transform="translate(219.9 1225.1) scale(1 1.014)" text-anchor="middle">1500</text>
<text transform="translate(714.8 1225.1) scale(1 1.014)" text-anchor="middle">2000</text>
<text transform="translate(1213.2 1225.1) scale(1 1.014)" text-anchor="middle">2500</text>
<text transform="translate(1707.2 1225.1) scale(1 1.014)" text-anchor="middle">3000</text>
<text transform="translate(0 202.3) scale(1 1.014)"><tspan x="97.7" dy="2.4" fill="#000">−</tspan><tspan x="130.7" dy="-2.4">10</tspan></text>
<text transform="translate(0 366.5) scale(1 1.014)"><tspan x="94.8" dy="2.4" fill="#000">−</tspan><tspan x="127.8" dy="-2.4">20</tspan></text>
<text transform="translate(0 562.3) scale(1 1.014)"><tspan x="94.8" dy="2.4" fill="#000">−</tspan><tspan x="127.8" dy="-2.4">30</tspan></text>
<text transform="translate(110.9 739.4) scale(1 1.014)">100</text>
<text transform="translate(164.9 994.6) scale(1 1.014)">0</text>
<text transform="translate(0 1160.2) scale(1 1.014)"><tspan x="65.8" dy="2.4" fill="#000">−</tspan><tspan x="97.8" dy="-2.4">100</tspan></text>
</g>
<g id="labels">
<text transform="matrix(0.7532 0 0 0.7481 726.74 1322.92)" font-size="100" fill="#262626">Frequency(Hz)</text>
<text transform="matrix(0 -0.7539 0.7473 0 75.93 571.26)" font-size="100" fill="#262626">Magnitude(dB)</text>
<text transform="matrix(0 -0.7522 0.7473 0 75.93 1096.96)" font-size="100" fill="#262626">Phase(deg)</text>
</g>
</svg></body></html>
